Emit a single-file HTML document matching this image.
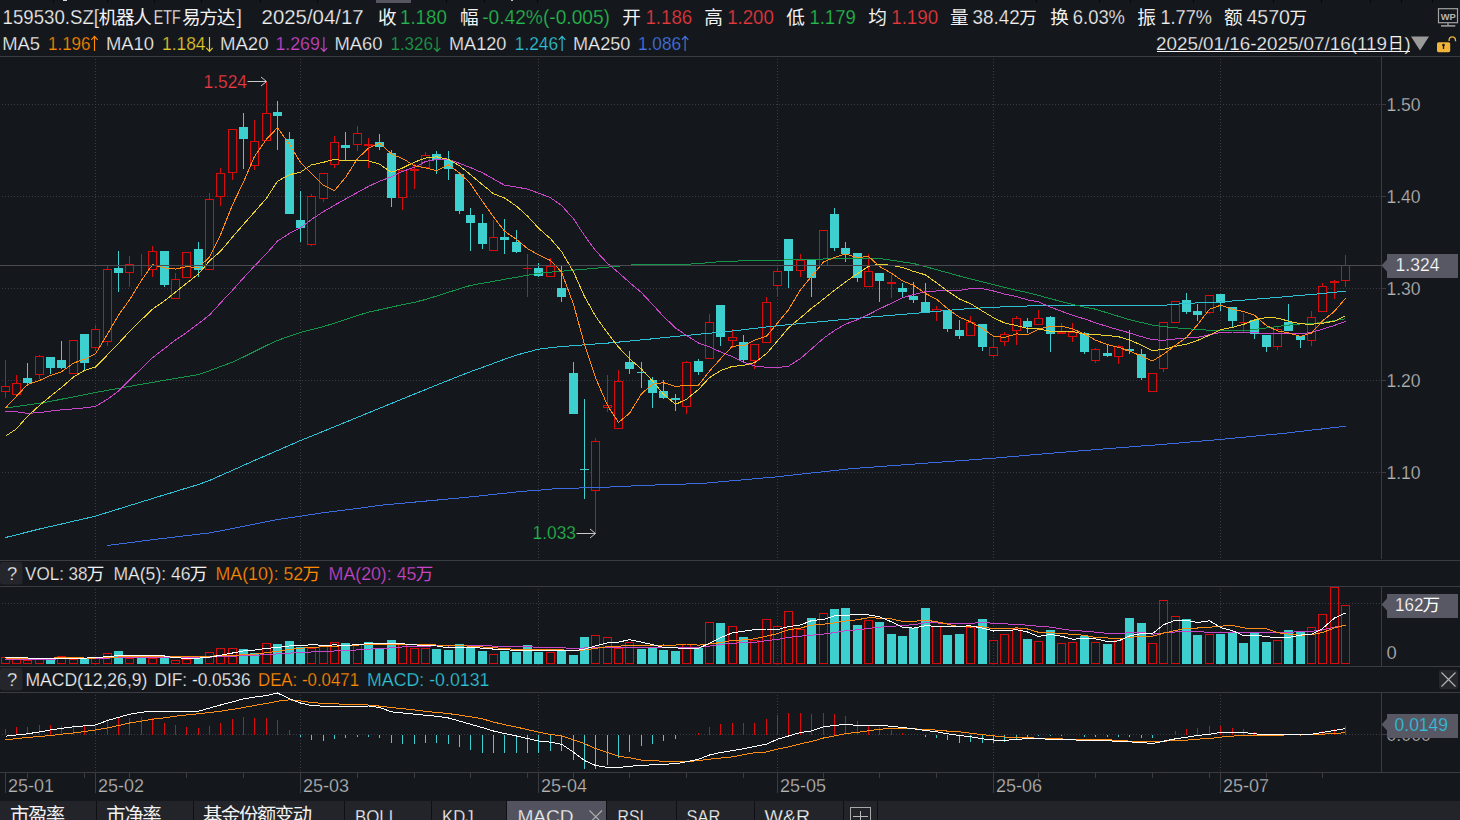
<!DOCTYPE html>
<html><head><meta charset="utf-8"><title>159530.SZ</title>
<style>
html,body{margin:0;padding:0;background:#14171c;overflow:hidden}
svg{display:block;font-family:"Liberation Sans","Noto Sans CJK SC",sans-serif}
</style></head><body>
<svg width="1460" height="820" viewBox="0 0 1460 820">
<rect x="0" y="0" width="1460" height="820" fill="#14171c" />
<rect x="376" y="0" width="35" height="3" fill="#55565f" />
<line x1="53.5" y1="0" x2="53.5" y2="3" stroke="#07080a" stroke-width="1" shape-rendering="crispEdges"/>
<line x1="107.5" y1="0" x2="107.5" y2="3" stroke="#07080a" stroke-width="1" shape-rendering="crispEdges"/>
<line x1="154.5" y1="0" x2="154.5" y2="3" stroke="#07080a" stroke-width="1" shape-rendering="crispEdges"/>
<line x1="201.5" y1="0" x2="201.5" y2="3" stroke="#07080a" stroke-width="1" shape-rendering="crispEdges"/>
<line x1="260.5" y1="0" x2="260.5" y2="3" stroke="#07080a" stroke-width="1" shape-rendering="crispEdges"/>
<line x1="317.5" y1="0" x2="317.5" y2="3" stroke="#07080a" stroke-width="1" shape-rendering="crispEdges"/>
<line x1="446.5" y1="0" x2="446.5" y2="3" stroke="#07080a" stroke-width="1" shape-rendering="crispEdges"/>
<line x1="484.5" y1="0" x2="484.5" y2="3" stroke="#07080a" stroke-width="1" shape-rendering="crispEdges"/>
<line x1="537.5" y1="0" x2="537.5" y2="3" stroke="#07080a" stroke-width="1" shape-rendering="crispEdges"/>
<line x1="1036.5" y1="0" x2="1036.5" y2="3" stroke="#07080a" stroke-width="1" shape-rendering="crispEdges"/>
<line x1="1099.5" y1="0" x2="1099.5" y2="3" stroke="#07080a" stroke-width="1" shape-rendering="crispEdges"/>
<line x1="1130.5" y1="0" x2="1130.5" y2="3" stroke="#07080a" stroke-width="1" shape-rendering="crispEdges"/>
<line x1="1193.5" y1="0" x2="1193.5" y2="3" stroke="#07080a" stroke-width="1" shape-rendering="crispEdges"/>
<line x1="1273.5" y1="0" x2="1273.5" y2="3" stroke="#07080a" stroke-width="1" shape-rendering="crispEdges"/>
<line x1="1321.5" y1="0" x2="1321.5" y2="3" stroke="#07080a" stroke-width="1" shape-rendering="crispEdges"/>
<line x1="1370.5" y1="0" x2="1370.5" y2="3" stroke="#07080a" stroke-width="1" shape-rendering="crispEdges"/>
<line x1="1401.5" y1="0" x2="1401.5" y2="3" stroke="#07080a" stroke-width="1" shape-rendering="crispEdges"/>
<line x1="1432.5" y1="0" x2="1432.5" y2="3" stroke="#07080a" stroke-width="1" shape-rendering="crispEdges"/>
<rect x="63" y="0" width="4" height="1" fill="#d8d8d8" />
<rect x="511" y="0" width="2" height="1" fill="#c8c8c8" />
<text x="2.60" y="24.1" font-size="19.6" fill="#f2f2f2" textLength="96.40" lengthAdjust="spacingAndGlyphs" xml:space="preserve" stroke="#14171c" stroke-width="0.25">159530.SZ[</text>
<text x="98.55" y="23.7" font-size="18.63" fill="#f2f2f2" textLength="53.3" lengthAdjust="spacing">机器人</text>
<text x="153.80" y="24.1" font-size="19.6" fill="#f2f2f2" textLength="26.80" lengthAdjust="spacingAndGlyphs" xml:space="preserve" stroke="#14171c" stroke-width="0.25">ETF</text>
<text x="181.95" y="23.7" font-size="18.63" fill="#f2f2f2" textLength="53.3" lengthAdjust="spacing">易方达</text>
<text x="236.50" y="24.1" font-size="19.6" fill="#f2f2f2" textLength="5.45" lengthAdjust="spacingAndGlyphs" xml:space="preserve" stroke="#14171c" stroke-width="0.25">]</text>
<text x="261.60" y="24.1" font-size="19.6" fill="#f2f2f2" textLength="102.00" lengthAdjust="spacingAndGlyphs" xml:space="preserve" stroke="#14171c" stroke-width="0.25">2025/04/17</text>
<text x="377.95" y="23.7" font-size="18.63" fill="#f2f2f2">收</text>
<text x="400.00" y="24.1" font-size="19.6" fill="#25ba4e" textLength="46.80" lengthAdjust="spacingAndGlyphs" xml:space="preserve" stroke="#14171c" stroke-width="0.25">1.180</text>
<text x="459.95" y="23.7" font-size="18.63" fill="#f2f2f2">幅</text>
<text x="482.20" y="24.1" font-size="19.6" fill="#25ba4e" textLength="127.80" lengthAdjust="spacingAndGlyphs" xml:space="preserve" stroke="#14171c" stroke-width="0.25">-0.42%(-0.005)</text>
<text x="622.35" y="23.7" font-size="18.63" fill="#f2f2f2">开</text>
<text x="645.40" y="24.1" font-size="19.6" fill="#e8383c" textLength="46.80" lengthAdjust="spacingAndGlyphs" xml:space="preserve" stroke="#14171c" stroke-width="0.25">1.186</text>
<text x="704.35" y="23.7" font-size="18.63" fill="#f2f2f2">高</text>
<text x="727.20" y="24.1" font-size="19.6" fill="#e8383c" textLength="46.60" lengthAdjust="spacingAndGlyphs" xml:space="preserve" stroke="#14171c" stroke-width="0.25">1.200</text>
<text x="786.35" y="23.7" font-size="18.63" fill="#f2f2f2">低</text>
<text x="809.40" y="24.1" font-size="19.6" fill="#25ba4e" textLength="46.40" lengthAdjust="spacingAndGlyphs" xml:space="preserve" stroke="#14171c" stroke-width="0.25">1.179</text>
<text x="868.35" y="23.7" font-size="18.63" fill="#f2f2f2">均</text>
<text x="891.20" y="24.1" font-size="19.6" fill="#e8383c" textLength="47.00" lengthAdjust="spacingAndGlyphs" xml:space="preserve" stroke="#14171c" stroke-width="0.25">1.190</text>
<text x="949.95" y="23.7" font-size="18.63" fill="#f2f2f2">量</text>
<text x="972.60" y="24.1" font-size="19.6" fill="#f2f2f2" textLength="47.20" lengthAdjust="spacingAndGlyphs" xml:space="preserve" stroke="#14171c" stroke-width="0.25">38.42</text>
<text x="1019.23" y="24.2" font-size="17.6" fill="#f2f2f2">万</text>
<text x="1050.35" y="23.7" font-size="18.63" fill="#f2f2f2">换</text>
<text x="1072.80" y="24.1" font-size="19.6" fill="#f2f2f2" textLength="52.20" lengthAdjust="spacingAndGlyphs" xml:space="preserve" stroke="#14171c" stroke-width="0.25">6.03%</text>
<text x="1137.35" y="23.7" font-size="18.63" fill="#f2f2f2">振</text>
<text x="1160.40" y="24.1" font-size="19.6" fill="#f2f2f2" textLength="51.60" lengthAdjust="spacingAndGlyphs" xml:space="preserve" stroke="#14171c" stroke-width="0.25">1.77%</text>
<text x="1223.95" y="23.7" font-size="18.63" fill="#f2f2f2">额</text>
<text x="1246.40" y="24.1" font-size="19.6" fill="#f2f2f2" textLength="43.60" lengthAdjust="spacingAndGlyphs" xml:space="preserve" stroke="#14171c" stroke-width="0.25">4570</text>
<text x="1289.43" y="24.2" font-size="17.6" fill="#f2f2f2">万</text>
<text x="2.20" y="50.4" font-size="18.4" fill="#f2f2f2" textLength="37.80" lengthAdjust="spacingAndGlyphs" xml:space="preserve" stroke="#14171c" stroke-width="0.25">MA5</text>
<text x="48.00" y="50.4" font-size="18.4" fill="#ff8a00" textLength="42.50" lengthAdjust="spacingAndGlyphs" xml:space="preserve" stroke="#14171c" stroke-width="0.25">1.196</text>
<path d="M94.5 50.9 V36.4 M91.3 39.9 L94.5 36.4 L97.7 39.9" stroke="#ff8a00" stroke-width="1.15" fill="none"/>
<text x="106.00" y="50.4" font-size="18.4" fill="#f2f2f2" textLength="48.00" lengthAdjust="spacingAndGlyphs" xml:space="preserve" stroke="#14171c" stroke-width="0.25">MA10</text>
<text x="162.00" y="50.4" font-size="18.4" fill="#e6cc2e" textLength="43.50" lengthAdjust="spacingAndGlyphs" xml:space="preserve" stroke="#14171c" stroke-width="0.25">1.184</text>
<path d="M209.5 36.9 V51.4 M206.3 47.9 L209.5 51.4 L212.7 47.9" stroke="#e6cc2e" stroke-width="1.15" fill="none"/>
<text x="220.00" y="50.4" font-size="18.4" fill="#f2f2f2" textLength="48.50" lengthAdjust="spacingAndGlyphs" xml:space="preserve" stroke="#14171c" stroke-width="0.25">MA20</text>
<text x="275.40" y="50.4" font-size="18.4" fill="#c846c8" textLength="44.50" lengthAdjust="spacingAndGlyphs" xml:space="preserve" stroke="#14171c" stroke-width="0.25">1.269</text>
<path d="M323.9 36.9 V51.4 M320.7 47.9 L323.9 51.4 L327.1 47.9" stroke="#c846c8" stroke-width="1.15" fill="none"/>
<text x="334.40" y="50.4" font-size="18.4" fill="#f2f2f2" textLength="48.00" lengthAdjust="spacingAndGlyphs" xml:space="preserve" stroke="#14171c" stroke-width="0.25">MA60</text>
<text x="390.40" y="50.4" font-size="18.4" fill="#1e9e4a" textLength="42.70" lengthAdjust="spacingAndGlyphs" xml:space="preserve" stroke="#14171c" stroke-width="0.25">1.326</text>
<path d="M437.1 36.9 V51.4 M433.9 47.9 L437.1 51.4 L440.3 47.9" stroke="#1e9e4a" stroke-width="1.15" fill="none"/>
<text x="449.00" y="50.4" font-size="18.4" fill="#f2f2f2" textLength="57.40" lengthAdjust="spacingAndGlyphs" xml:space="preserve" stroke="#14171c" stroke-width="0.25">MA120</text>
<text x="514.80" y="50.4" font-size="18.4" fill="#30c3d6" textLength="43.30" lengthAdjust="spacingAndGlyphs" xml:space="preserve" stroke="#14171c" stroke-width="0.25">1.246</text>
<path d="M562.1 50.9 V36.4 M558.9 39.9 L562.1 36.4 L565.3 39.9" stroke="#30c3d6" stroke-width="1.15" fill="none"/>
<text x="573.00" y="50.4" font-size="18.4" fill="#f2f2f2" textLength="57.40" lengthAdjust="spacingAndGlyphs" xml:space="preserve" stroke="#14171c" stroke-width="0.25">MA250</text>
<text x="638.00" y="50.4" font-size="18.4" fill="#4477e6" textLength="43.10" lengthAdjust="spacingAndGlyphs" xml:space="preserve" stroke="#14171c" stroke-width="0.25">1.086</text>
<path d="M685.1 50.9 V36.4 M681.9 39.9 L685.1 36.4 L688.3 39.9" stroke="#4477e6" stroke-width="1.15" fill="none"/>
<text x="1156.00" y="50.4" font-size="18.4" fill="#f2f2f2" textLength="231.00" lengthAdjust="spacingAndGlyphs" xml:space="preserve" stroke="#14171c" stroke-width="0.25">2025/01/16-2025/07/16(119</text>
<text x="1387.89" y="48.8" font-size="15.5" fill="#f2f2f2">日</text>
<text x="1404.40" y="50.4" font-size="18.4" fill="#f2f2f2" textLength="6.13" lengthAdjust="spacingAndGlyphs" xml:space="preserve" stroke="#14171c" stroke-width="0.25">)</text>
<line x1="1156.5" y1="51.5" x2="1409.5" y2="51.5" stroke="#f2f2f2" stroke-width="1" shape-rendering="crispEdges"/>
<path d="M1411 36.5 H1429 L1420 50.5 Z" fill="#9a9a9a"/>
<rect x="1437" y="42.2" width="13.2" height="10" rx="1.6" fill="#f0b43a"/>
<path d="M1449.1 40.9 V40 a3.2 3.2 0 0 1 6.4 0 V41.2" stroke="#f0b43a" stroke-width="1.3" fill="none"/>
<circle cx="1443.5" cy="45" r="1.35" fill="#15161a"/>
<path d="M1443.5 45 V49" stroke="#15161a" stroke-width="1.3" fill="none"/>
<rect x="1438.5" y="8.7" width="19" height="14" fill="none" stroke="#a2a2a2" stroke-width="1.2"/>
<path d="M1448 22.7 V25.5" stroke="#a2a2a2" stroke-width="1.3" fill="none"/>
<path d="M1441 25.9 H1455.3" stroke="#a2a2a2" stroke-width="1.5" fill="none"/>
<text x="1440.8" y="19.8" font-size="9.6" font-weight="bold" fill="#b6b6b6" textLength="15" lengthAdjust="spacingAndGlyphs">WP</text>
<line x1="0" y1="56.5" x2="1460" y2="56.5" stroke="#3b3b42" stroke-width="1" shape-rendering="crispEdges"/>
<line x1="0" y1="560.5" x2="1460" y2="560.5" stroke="#3b3b42" stroke-width="1" shape-rendering="crispEdges"/>
<line x1="0" y1="586.5" x2="1460" y2="586.5" stroke="#3b3b42" stroke-width="1" shape-rendering="crispEdges"/>
<line x1="0" y1="666.5" x2="1460" y2="666.5" stroke="#3b3b42" stroke-width="1" shape-rendering="crispEdges"/>
<line x1="0" y1="692.5" x2="1460" y2="692.5" stroke="#3b3b42" stroke-width="1" shape-rendering="crispEdges"/>
<line x1="0" y1="772.5" x2="1460" y2="772.5" stroke="#3b3b42" stroke-width="1" shape-rendering="crispEdges"/>
<line x1="1381.5" y1="57" x2="1381.5" y2="559" stroke="#3b3b42" stroke-width="1" shape-rendering="crispEdges"/>
<line x1="1381.5" y1="587" x2="1381.5" y2="666" stroke="#3b3b42" stroke-width="1" shape-rendering="crispEdges"/>
<line x1="1381.5" y1="693" x2="1381.5" y2="772" stroke="#3b3b42" stroke-width="1" shape-rendering="crispEdges"/>
<line x1="2" y1="104.5" x2="1381" y2="104.5" stroke="#3c3c44" stroke-width="1" stroke-dasharray="1 2" shape-rendering="crispEdges"/>
<line x1="2" y1="196.5" x2="1381" y2="196.5" stroke="#3c3c44" stroke-width="1" stroke-dasharray="1 2" shape-rendering="crispEdges"/>
<line x1="2" y1="288.5" x2="1381" y2="288.5" stroke="#3c3c44" stroke-width="1" stroke-dasharray="1 2" shape-rendering="crispEdges"/>
<line x1="2" y1="380.5" x2="1381" y2="380.5" stroke="#3c3c44" stroke-width="1" stroke-dasharray="1 2" shape-rendering="crispEdges"/>
<line x1="2" y1="472.5" x2="1381" y2="472.5" stroke="#3c3c44" stroke-width="1" stroke-dasharray="1 2" shape-rendering="crispEdges"/>
<line x1="2" y1="603.5" x2="1381" y2="603.5" stroke="#3c3c44" stroke-width="1" stroke-dasharray="1 2" shape-rendering="crispEdges"/>
<line x1="2" y1="734.5" x2="1381" y2="734.5" stroke="#3c3c44" stroke-width="1" stroke-dasharray="1 2" shape-rendering="crispEdges"/>
<line x1="95.5" y1="59" x2="95.5" y2="559" stroke="#3c3c44" stroke-width="1" stroke-dasharray="1 2" shape-rendering="crispEdges"/>
<line x1="95.5" y1="589" x2="95.5" y2="666" stroke="#3c3c44" stroke-width="1" stroke-dasharray="1 2" shape-rendering="crispEdges"/>
<line x1="95.5" y1="695" x2="95.5" y2="772" stroke="#3c3c44" stroke-width="1" stroke-dasharray="1 2" shape-rendering="crispEdges"/>
<line x1="300.5" y1="59" x2="300.5" y2="559" stroke="#3c3c44" stroke-width="1" stroke-dasharray="1 2" shape-rendering="crispEdges"/>
<line x1="300.5" y1="589" x2="300.5" y2="666" stroke="#3c3c44" stroke-width="1" stroke-dasharray="1 2" shape-rendering="crispEdges"/>
<line x1="300.5" y1="695" x2="300.5" y2="772" stroke="#3c3c44" stroke-width="1" stroke-dasharray="1 2" shape-rendering="crispEdges"/>
<line x1="538.5" y1="59" x2="538.5" y2="559" stroke="#3c3c44" stroke-width="1" stroke-dasharray="1 2" shape-rendering="crispEdges"/>
<line x1="538.5" y1="589" x2="538.5" y2="666" stroke="#3c3c44" stroke-width="1" stroke-dasharray="1 2" shape-rendering="crispEdges"/>
<line x1="538.5" y1="695" x2="538.5" y2="772" stroke="#3c3c44" stroke-width="1" stroke-dasharray="1 2" shape-rendering="crispEdges"/>
<line x1="777.5" y1="59" x2="777.5" y2="559" stroke="#3c3c44" stroke-width="1" stroke-dasharray="1 2" shape-rendering="crispEdges"/>
<line x1="777.5" y1="589" x2="777.5" y2="666" stroke="#3c3c44" stroke-width="1" stroke-dasharray="1 2" shape-rendering="crispEdges"/>
<line x1="777.5" y1="695" x2="777.5" y2="772" stroke="#3c3c44" stroke-width="1" stroke-dasharray="1 2" shape-rendering="crispEdges"/>
<line x1="993.5" y1="59" x2="993.5" y2="559" stroke="#3c3c44" stroke-width="1" stroke-dasharray="1 2" shape-rendering="crispEdges"/>
<line x1="993.5" y1="589" x2="993.5" y2="666" stroke="#3c3c44" stroke-width="1" stroke-dasharray="1 2" shape-rendering="crispEdges"/>
<line x1="993.5" y1="695" x2="993.5" y2="772" stroke="#3c3c44" stroke-width="1" stroke-dasharray="1 2" shape-rendering="crispEdges"/>
<line x1="1220.5" y1="59" x2="1220.5" y2="559" stroke="#3c3c44" stroke-width="1" stroke-dasharray="1 2" shape-rendering="crispEdges"/>
<line x1="1220.5" y1="589" x2="1220.5" y2="666" stroke="#3c3c44" stroke-width="1" stroke-dasharray="1 2" shape-rendering="crispEdges"/>
<line x1="1220.5" y1="695" x2="1220.5" y2="772" stroke="#3c3c44" stroke-width="1" stroke-dasharray="1 2" shape-rendering="crispEdges"/>
<g shape-rendering="crispEdges">
<rect x="5" y="360" width="1" height="26" fill="#d80c0c" />
<rect x="5" y="392" width="1" height="6" fill="#d80c0c" />
<rect x="1.5" y="386.5" width="8" height="5" fill="#14171c" stroke="#d80c0c" stroke-width="1"/>
<rect x="16" y="375" width="1" height="8" fill="#d80c0c" />
<rect x="16" y="395" width="1" height="1" fill="#d80c0c" />
<rect x="12.5" y="383.5" width="8" height="11" fill="#14171c" stroke="#d80c0c" stroke-width="1"/>
<rect x="27" y="363" width="1" height="15" fill="#3ecfcf" />
<rect x="27" y="383" width="1" height="3" fill="#3ecfcf" />
<rect x="23" y="378" width="9" height="5" fill="#3ecfcf" />
<rect x="39" y="355" width="1" height="1" fill="#d80c0c" />
<rect x="39" y="375" width="1" height="4" fill="#d80c0c" />
<rect x="35.5" y="356.5" width="8" height="18" fill="#14171c" stroke="#d80c0c" stroke-width="1"/>
<rect x="50" y="368" width="1" height="6" fill="#3ecfcf" />
<rect x="46" y="357" width="9" height="11" fill="#3ecfcf" />
<rect x="61" y="341" width="1" height="19" fill="#3ecfcf" />
<rect x="61" y="368" width="1" height="1" fill="#3ecfcf" />
<rect x="57" y="360" width="9" height="8" fill="#3ecfcf" />
<rect x="69.5" y="340.5" width="8" height="33" fill="#14171c" stroke="#d80c0c" stroke-width="1"/>
<rect x="84" y="363" width="1" height="7" fill="#3ecfcf" />
<rect x="80" y="334" width="9" height="29" fill="#3ecfcf" />
<rect x="95" y="325" width="1" height="4" fill="#d80c0c" />
<rect x="95" y="348" width="1" height="3" fill="#d80c0c" />
<rect x="91.5" y="329.5" width="8" height="18" fill="#14171c" stroke="#d80c0c" stroke-width="1"/>
<rect x="107" y="266" width="1" height="3" fill="#d80c0c" />
<rect x="107" y="342" width="1" height="4" fill="#d80c0c" />
<rect x="103.5" y="269.5" width="8" height="72" fill="#14171c" stroke="#d80c0c" stroke-width="1"/>
<rect x="118" y="251" width="1" height="17" fill="#3ecfcf" />
<rect x="118" y="273" width="1" height="19" fill="#3ecfcf" />
<rect x="114" y="268" width="9" height="5" fill="#3ecfcf" />
<rect x="129" y="256" width="1" height="8" fill="#d80c0c" />
<rect x="129" y="273" width="1" height="14" fill="#d80c0c" />
<rect x="125.5" y="264.5" width="8" height="8" fill="#14171c" stroke="#d80c0c" stroke-width="1"/>
<rect x="141" y="254" width="1" height="11" fill="#d80c0c" />
<rect x="141" y="266" width="1" height="10" fill="#d80c0c" />
<rect x="137" y="265" width="9" height="1" fill="#d80c0c" />
<rect x="152" y="246" width="1" height="5" fill="#d80c0c" />
<rect x="152" y="270" width="1" height="7" fill="#d80c0c" />
<rect x="148.5" y="251.5" width="8" height="18" fill="#14171c" stroke="#d80c0c" stroke-width="1"/>
<rect x="164" y="285" width="1" height="2" fill="#3ecfcf" />
<rect x="160" y="251" width="9" height="34" fill="#3ecfcf" />
<rect x="175" y="273" width="1" height="6" fill="#d80c0c" />
<rect x="171.5" y="279.5" width="8" height="19" fill="#14171c" stroke="#d80c0c" stroke-width="1"/>
<rect x="182.5" y="252.5" width="8" height="25" fill="#14171c" stroke="#d80c0c" stroke-width="1"/>
<rect x="198" y="242" width="1" height="7" fill="#3ecfcf" />
<rect x="198" y="270" width="1" height="7" fill="#3ecfcf" />
<rect x="194" y="249" width="9" height="21" fill="#3ecfcf" />
<rect x="209" y="193" width="1" height="6" fill="#d80c0c" />
<rect x="205.5" y="199.5" width="8" height="70" fill="#14171c" stroke="#d80c0c" stroke-width="1"/>
<rect x="220" y="168" width="1" height="5" fill="#d80c0c" />
<rect x="220" y="197" width="1" height="9" fill="#d80c0c" />
<rect x="216.5" y="173.5" width="8" height="23" fill="#14171c" stroke="#d80c0c" stroke-width="1"/>
<rect x="232" y="173" width="1" height="7" fill="#d80c0c" />
<rect x="228.5" y="129.5" width="8" height="43" fill="#14171c" stroke="#d80c0c" stroke-width="1"/>
<rect x="243" y="113" width="1" height="14" fill="#3ecfcf" />
<rect x="243" y="139" width="1" height="30" fill="#3ecfcf" />
<rect x="239" y="127" width="9" height="12" fill="#3ecfcf" />
<rect x="254" y="120" width="1" height="21" fill="#d80c0c" />
<rect x="254" y="166" width="1" height="4" fill="#d80c0c" />
<rect x="250.5" y="141.5" width="8" height="24" fill="#14171c" stroke="#d80c0c" stroke-width="1"/>
<rect x="266" y="81" width="1" height="32" fill="#d80c0c" />
<rect x="262.5" y="113.5" width="8" height="27" fill="#14171c" stroke="#d80c0c" stroke-width="1"/>
<rect x="277" y="101" width="1" height="11" fill="#3ecfcf" />
<rect x="277" y="116" width="1" height="34" fill="#3ecfcf" />
<rect x="273" y="112" width="9" height="4" fill="#3ecfcf" />
<rect x="289" y="132" width="1" height="7" fill="#3ecfcf" />
<rect x="285" y="139" width="9" height="75" fill="#3ecfcf" />
<rect x="300" y="191" width="1" height="29" fill="#3ecfcf" />
<rect x="300" y="228" width="1" height="14" fill="#3ecfcf" />
<rect x="296" y="220" width="9" height="8" fill="#3ecfcf" />
<rect x="311" y="194" width="1" height="2" fill="#d80c0c" />
<rect x="311" y="245" width="1" height="1" fill="#d80c0c" />
<rect x="307.5" y="196.5" width="8" height="48" fill="#14171c" stroke="#d80c0c" stroke-width="1"/>
<rect x="323" y="199" width="1" height="3" fill="#d80c0c" />
<rect x="319.5" y="173.5" width="8" height="25" fill="#14171c" stroke="#d80c0c" stroke-width="1"/>
<rect x="334" y="136" width="1" height="6" fill="#d80c0c" />
<rect x="334" y="165" width="1" height="3" fill="#d80c0c" />
<rect x="330.5" y="142.5" width="8" height="22" fill="#14171c" stroke="#d80c0c" stroke-width="1"/>
<rect x="345" y="132" width="1" height="13" fill="#3ecfcf" />
<rect x="345" y="148" width="1" height="13" fill="#3ecfcf" />
<rect x="341" y="145" width="9" height="3" fill="#3ecfcf" />
<rect x="357" y="126" width="1" height="7" fill="#d80c0c" />
<rect x="357" y="145" width="1" height="6" fill="#d80c0c" />
<rect x="353.5" y="133.5" width="8" height="11" fill="#14171c" stroke="#d80c0c" stroke-width="1"/>
<rect x="368" y="138" width="1" height="6" fill="#d80c0c" />
<rect x="368" y="146" width="1" height="22" fill="#d80c0c" />
<rect x="364.5" y="144.5" width="8" height="1" fill="#14171c" stroke="#d80c0c" stroke-width="1"/>
<rect x="379" y="134" width="1" height="8" fill="#3ecfcf" />
<rect x="379" y="147" width="1" height="3" fill="#3ecfcf" />
<rect x="375" y="142" width="9" height="5" fill="#3ecfcf" />
<rect x="391" y="150" width="1" height="3" fill="#3ecfcf" />
<rect x="391" y="198" width="1" height="9" fill="#3ecfcf" />
<rect x="387" y="153" width="9" height="45" fill="#3ecfcf" />
<rect x="402" y="198" width="1" height="12" fill="#d80c0c" />
<rect x="398.5" y="170.5" width="8" height="27" fill="#14171c" stroke="#d80c0c" stroke-width="1"/>
<rect x="414" y="164" width="1" height="5" fill="#d80c0c" />
<rect x="414" y="171" width="1" height="18" fill="#d80c0c" />
<rect x="410.5" y="169.5" width="8" height="1" fill="#14171c" stroke="#d80c0c" stroke-width="1"/>
<rect x="425" y="152" width="1" height="3" fill="#d80c0c" />
<rect x="421.5" y="155.5" width="8" height="12" fill="#14171c" stroke="#d80c0c" stroke-width="1"/>
<rect x="436" y="151" width="1" height="3" fill="#3ecfcf" />
<rect x="436" y="160" width="1" height="14" fill="#3ecfcf" />
<rect x="432" y="154" width="9" height="6" fill="#3ecfcf" />
<rect x="448" y="151" width="1" height="9" fill="#3ecfcf" />
<rect x="448" y="169" width="1" height="11" fill="#3ecfcf" />
<rect x="444" y="160" width="9" height="9" fill="#3ecfcf" />
<rect x="459" y="211" width="1" height="3" fill="#3ecfcf" />
<rect x="455" y="174" width="9" height="37" fill="#3ecfcf" />
<rect x="470" y="208" width="1" height="7" fill="#3ecfcf" />
<rect x="470" y="223" width="1" height="28" fill="#3ecfcf" />
<rect x="466" y="215" width="9" height="8" fill="#3ecfcf" />
<rect x="482" y="214" width="1" height="9" fill="#3ecfcf" />
<rect x="482" y="244" width="1" height="5" fill="#3ecfcf" />
<rect x="478" y="223" width="9" height="21" fill="#3ecfcf" />
<rect x="493" y="220" width="1" height="17" fill="#d80c0c" />
<rect x="489.5" y="237.5" width="8" height="13" fill="#14171c" stroke="#d80c0c" stroke-width="1"/>
<rect x="504" y="219" width="1" height="18" fill="#3ecfcf" />
<rect x="504" y="240" width="1" height="14" fill="#3ecfcf" />
<rect x="500" y="237" width="9" height="3" fill="#3ecfcf" />
<rect x="516" y="230" width="1" height="12" fill="#3ecfcf" />
<rect x="516" y="252" width="1" height="1" fill="#3ecfcf" />
<rect x="512" y="242" width="9" height="10" fill="#3ecfcf" />
<rect x="527" y="254" width="1" height="14" fill="#d80c0c" />
<rect x="527" y="269" width="1" height="28" fill="#d80c0c" />
<rect x="523" y="268" width="9" height="1" fill="#d80c0c" />
<rect x="538" y="263" width="1" height="5" fill="#3ecfcf" />
<rect x="538" y="276" width="1" height="1" fill="#3ecfcf" />
<rect x="534" y="268" width="9" height="8" fill="#3ecfcf" />
<rect x="550" y="258" width="1" height="8" fill="#d80c0c" />
<rect x="546.5" y="266.5" width="8" height="10" fill="#14171c" stroke="#d80c0c" stroke-width="1"/>
<rect x="561" y="266" width="1" height="22" fill="#3ecfcf" />
<rect x="561" y="297" width="1" height="5" fill="#3ecfcf" />
<rect x="557" y="288" width="9" height="9" fill="#3ecfcf" />
<rect x="573" y="362" width="1" height="11" fill="#3ecfcf" />
<rect x="569" y="373" width="9" height="41" fill="#3ecfcf" />
<rect x="584" y="399" width="1" height="70" fill="#3ecfcf" />
<rect x="584" y="470" width="1" height="29" fill="#3ecfcf" />
<rect x="580" y="469" width="9" height="1" fill="#3ecfcf" />
<rect x="595" y="438" width="1" height="3" fill="#d80c0c" />
<rect x="595" y="491" width="1" height="43" fill="#d80c0c" />
<rect x="591.5" y="441.5" width="8" height="49" fill="#14171c" stroke="#d80c0c" stroke-width="1"/>
<rect x="607" y="375" width="1" height="30" fill="#d80c0c" />
<rect x="607" y="408" width="1" height="4" fill="#d80c0c" />
<rect x="603.5" y="405.5" width="8" height="2" fill="#14171c" stroke="#d80c0c" stroke-width="1"/>
<rect x="618" y="370" width="1" height="11" fill="#d80c0c" />
<rect x="614.5" y="381.5" width="8" height="47" fill="#14171c" stroke="#d80c0c" stroke-width="1"/>
<rect x="629" y="351" width="1" height="11" fill="#3ecfcf" />
<rect x="629" y="369" width="1" height="5" fill="#3ecfcf" />
<rect x="625" y="362" width="9" height="7" fill="#3ecfcf" />
<rect x="641" y="362" width="1" height="10" fill="#3ecfcf" />
<rect x="641" y="373" width="1" height="15" fill="#3ecfcf" />
<rect x="637" y="372" width="9" height="1" fill="#3ecfcf" />
<rect x="652" y="377" width="1" height="3" fill="#3ecfcf" />
<rect x="652" y="393" width="1" height="15" fill="#3ecfcf" />
<rect x="648" y="380" width="9" height="13" fill="#3ecfcf" />
<rect x="663" y="380" width="1" height="11" fill="#3ecfcf" />
<rect x="663" y="398" width="1" height="1" fill="#3ecfcf" />
<rect x="659" y="391" width="9" height="7" fill="#3ecfcf" />
<rect x="675" y="394" width="1" height="4" fill="#3ecfcf" />
<rect x="675" y="400" width="1" height="11" fill="#3ecfcf" />
<rect x="671" y="398" width="9" height="2" fill="#3ecfcf" />
<rect x="686" y="361" width="1" height="1" fill="#d80c0c" />
<rect x="686" y="407" width="1" height="7" fill="#d80c0c" />
<rect x="682.5" y="362.5" width="8" height="44" fill="#14171c" stroke="#d80c0c" stroke-width="1"/>
<rect x="698" y="359" width="1" height="2" fill="#3ecfcf" />
<rect x="698" y="372" width="1" height="3" fill="#3ecfcf" />
<rect x="694" y="361" width="9" height="11" fill="#3ecfcf" />
<rect x="709" y="314" width="1" height="8" fill="#d80c0c" />
<rect x="705.5" y="322.5" width="8" height="36" fill="#14171c" stroke="#d80c0c" stroke-width="1"/>
<rect x="720" y="337" width="1" height="9" fill="#3ecfcf" />
<rect x="716" y="305" width="9" height="32" fill="#3ecfcf" />
<rect x="732" y="329" width="1" height="8" fill="#d80c0c" />
<rect x="732" y="341" width="1" height="7" fill="#d80c0c" />
<rect x="728.5" y="337.5" width="8" height="3" fill="#14171c" stroke="#d80c0c" stroke-width="1"/>
<rect x="743" y="335" width="1" height="7" fill="#3ecfcf" />
<rect x="743" y="360" width="1" height="2" fill="#3ecfcf" />
<rect x="739" y="342" width="9" height="18" fill="#3ecfcf" />
<rect x="754" y="361" width="1" height="8" fill="#d80c0c" />
<rect x="750.5" y="344.5" width="8" height="16" fill="#14171c" stroke="#d80c0c" stroke-width="1"/>
<rect x="766" y="297" width="1" height="5" fill="#d80c0c" />
<rect x="762.5" y="302.5" width="8" height="40" fill="#14171c" stroke="#d80c0c" stroke-width="1"/>
<rect x="777" y="268" width="1" height="3" fill="#d80c0c" />
<rect x="777" y="286" width="1" height="11" fill="#d80c0c" />
<rect x="773.5" y="271.5" width="8" height="14" fill="#14171c" stroke="#d80c0c" stroke-width="1"/>
<rect x="788" y="271" width="1" height="17" fill="#3ecfcf" />
<rect x="784" y="239" width="9" height="32" fill="#3ecfcf" />
<rect x="800" y="254" width="1" height="6" fill="#d80c0c" />
<rect x="800" y="271" width="1" height="6" fill="#d80c0c" />
<rect x="796.5" y="260.5" width="8" height="10" fill="#14171c" stroke="#d80c0c" stroke-width="1"/>
<rect x="811" y="278" width="1" height="19" fill="#3ecfcf" />
<rect x="807" y="260" width="9" height="18" fill="#3ecfcf" />
<rect x="819.5" y="230.5" width="8" height="35" fill="#14171c" stroke="#d80c0c" stroke-width="1"/>
<rect x="834" y="208" width="1" height="6" fill="#3ecfcf" />
<rect x="834" y="248" width="1" height="3" fill="#3ecfcf" />
<rect x="830" y="214" width="9" height="34" fill="#3ecfcf" />
<rect x="845" y="242" width="1" height="6" fill="#3ecfcf" />
<rect x="845" y="254" width="1" height="8" fill="#3ecfcf" />
<rect x="841" y="248" width="9" height="6" fill="#3ecfcf" />
<rect x="857" y="278" width="1" height="4" fill="#3ecfcf" />
<rect x="853" y="253" width="9" height="25" fill="#3ecfcf" />
<rect x="868" y="254" width="1" height="17" fill="#d80c0c" />
<rect x="864.5" y="271.5" width="8" height="15" fill="#14171c" stroke="#d80c0c" stroke-width="1"/>
<rect x="879" y="281" width="1" height="21" fill="#3ecfcf" />
<rect x="875" y="273" width="9" height="8" fill="#3ecfcf" />
<rect x="891" y="275" width="1" height="7" fill="#d80c0c" />
<rect x="891" y="284" width="1" height="14" fill="#d80c0c" />
<rect x="887.5" y="282.5" width="8" height="1" fill="#14171c" stroke="#d80c0c" stroke-width="1"/>
<rect x="902" y="283" width="1" height="5" fill="#3ecfcf" />
<rect x="902" y="292" width="1" height="6" fill="#3ecfcf" />
<rect x="898" y="288" width="9" height="4" fill="#3ecfcf" />
<rect x="913" y="282" width="1" height="14" fill="#3ecfcf" />
<rect x="913" y="300" width="1" height="3" fill="#3ecfcf" />
<rect x="909" y="296" width="9" height="4" fill="#3ecfcf" />
<rect x="925" y="283" width="1" height="19" fill="#3ecfcf" />
<rect x="921" y="302" width="9" height="10" fill="#3ecfcf" />
<rect x="936" y="306" width="1" height="3" fill="#d80c0c" />
<rect x="936" y="312" width="1" height="9" fill="#d80c0c" />
<rect x="932.5" y="309.5" width="8" height="2" fill="#14171c" stroke="#d80c0c" stroke-width="1"/>
<rect x="947" y="329" width="1" height="3" fill="#3ecfcf" />
<rect x="943" y="310" width="9" height="19" fill="#3ecfcf" />
<rect x="959" y="320" width="1" height="10" fill="#3ecfcf" />
<rect x="959" y="336" width="1" height="3" fill="#3ecfcf" />
<rect x="955" y="330" width="9" height="6" fill="#3ecfcf" />
<rect x="970" y="316" width="1" height="6" fill="#d80c0c" />
<rect x="966.5" y="322.5" width="8" height="13" fill="#14171c" stroke="#d80c0c" stroke-width="1"/>
<rect x="982" y="347" width="1" height="4" fill="#3ecfcf" />
<rect x="978" y="324" width="9" height="23" fill="#3ecfcf" />
<rect x="993" y="339" width="1" height="8" fill="#d80c0c" />
<rect x="993" y="356" width="1" height="2" fill="#d80c0c" />
<rect x="989.5" y="347.5" width="8" height="8" fill="#14171c" stroke="#d80c0c" stroke-width="1"/>
<rect x="1004" y="332" width="1" height="2" fill="#d80c0c" />
<rect x="1004" y="342" width="1" height="4" fill="#d80c0c" />
<rect x="1000.5" y="334.5" width="8" height="7" fill="#14171c" stroke="#d80c0c" stroke-width="1"/>
<rect x="1016" y="316" width="1" height="2" fill="#d80c0c" />
<rect x="1016" y="331" width="1" height="14" fill="#d80c0c" />
<rect x="1012.5" y="318.5" width="8" height="12" fill="#14171c" stroke="#d80c0c" stroke-width="1"/>
<rect x="1027" y="318" width="1" height="3" fill="#3ecfcf" />
<rect x="1027" y="327" width="1" height="6" fill="#3ecfcf" />
<rect x="1023" y="321" width="9" height="6" fill="#3ecfcf" />
<rect x="1038" y="310" width="1" height="8" fill="#d80c0c" />
<rect x="1034.5" y="318.5" width="8" height="6" fill="#14171c" stroke="#d80c0c" stroke-width="1"/>
<rect x="1050" y="316" width="1" height="1" fill="#3ecfcf" />
<rect x="1050" y="334" width="1" height="18" fill="#3ecfcf" />
<rect x="1046" y="317" width="9" height="17" fill="#3ecfcf" />
<rect x="1061" y="323" width="1" height="9" fill="#d80c0c" />
<rect x="1057.5" y="332.5" width="8" height="1" fill="#14171c" stroke="#d80c0c" stroke-width="1"/>
<rect x="1072" y="323" width="1" height="9" fill="#d80c0c" />
<rect x="1072" y="337" width="1" height="5" fill="#d80c0c" />
<rect x="1068.5" y="332.5" width="8" height="4" fill="#14171c" stroke="#d80c0c" stroke-width="1"/>
<rect x="1084" y="332" width="1" height="1" fill="#3ecfcf" />
<rect x="1084" y="352" width="1" height="2" fill="#3ecfcf" />
<rect x="1080" y="333" width="9" height="19" fill="#3ecfcf" />
<rect x="1095" y="348" width="1" height="1" fill="#d80c0c" />
<rect x="1095" y="361" width="1" height="2" fill="#d80c0c" />
<rect x="1091.5" y="349.5" width="8" height="11" fill="#14171c" stroke="#d80c0c" stroke-width="1"/>
<rect x="1107" y="345" width="1" height="8" fill="#3ecfcf" />
<rect x="1107" y="356" width="1" height="1" fill="#3ecfcf" />
<rect x="1103" y="353" width="9" height="3" fill="#3ecfcf" />
<rect x="1118" y="345" width="1" height="1" fill="#d80c0c" />
<rect x="1118" y="357" width="1" height="7" fill="#d80c0c" />
<rect x="1114.5" y="346.5" width="8" height="10" fill="#14171c" stroke="#d80c0c" stroke-width="1"/>
<rect x="1129" y="330" width="1" height="19" fill="#3ecfcf" />
<rect x="1129" y="351" width="1" height="3" fill="#3ecfcf" />
<rect x="1125" y="349" width="9" height="2" fill="#3ecfcf" />
<rect x="1141" y="349" width="1" height="5" fill="#3ecfcf" />
<rect x="1141" y="378" width="1" height="2" fill="#3ecfcf" />
<rect x="1137" y="354" width="9" height="24" fill="#3ecfcf" />
<rect x="1148.5" y="373.5" width="8" height="18" fill="#14171c" stroke="#d80c0c" stroke-width="1"/>
<rect x="1163" y="369" width="1" height="3" fill="#d80c0c" />
<rect x="1159.5" y="322.5" width="8" height="46" fill="#14171c" stroke="#d80c0c" stroke-width="1"/>
<rect x="1171.5" y="301.5" width="8" height="21" fill="#14171c" stroke="#d80c0c" stroke-width="1"/>
<rect x="1186" y="293" width="1" height="7" fill="#3ecfcf" />
<rect x="1186" y="312" width="1" height="2" fill="#3ecfcf" />
<rect x="1182" y="300" width="9" height="12" fill="#3ecfcf" />
<rect x="1197" y="304" width="1" height="7" fill="#3ecfcf" />
<rect x="1197" y="315" width="1" height="6" fill="#3ecfcf" />
<rect x="1193" y="311" width="9" height="4" fill="#3ecfcf" />
<rect x="1209" y="313" width="1" height="1" fill="#d80c0c" />
<rect x="1205.5" y="295.5" width="8" height="17" fill="#14171c" stroke="#d80c0c" stroke-width="1"/>
<rect x="1220" y="303" width="1" height="8" fill="#3ecfcf" />
<rect x="1216" y="294" width="9" height="9" fill="#3ecfcf" />
<rect x="1232" y="321" width="1" height="6" fill="#3ecfcf" />
<rect x="1228" y="307" width="9" height="14" fill="#3ecfcf" />
<rect x="1243" y="313" width="1" height="9" fill="#d80c0c" />
<rect x="1243" y="323" width="1" height="9" fill="#d80c0c" />
<rect x="1239" y="322" width="9" height="1" fill="#d80c0c" />
<rect x="1254" y="334" width="1" height="5" fill="#3ecfcf" />
<rect x="1250" y="320" width="9" height="14" fill="#3ecfcf" />
<rect x="1266" y="347" width="1" height="5" fill="#3ecfcf" />
<rect x="1262" y="335" width="9" height="12" fill="#3ecfcf" />
<rect x="1277" y="327" width="1" height="2" fill="#d80c0c" />
<rect x="1277" y="347" width="1" height="3" fill="#d80c0c" />
<rect x="1273.5" y="329.5" width="8" height="17" fill="#14171c" stroke="#d80c0c" stroke-width="1"/>
<rect x="1288" y="304" width="1" height="18" fill="#3ecfcf" />
<rect x="1284" y="322" width="9" height="9" fill="#3ecfcf" />
<rect x="1300" y="340" width="1" height="8" fill="#3ecfcf" />
<rect x="1296" y="336" width="9" height="4" fill="#3ecfcf" />
<rect x="1311" y="311" width="1" height="6" fill="#d80c0c" />
<rect x="1311" y="341" width="1" height="5" fill="#d80c0c" />
<rect x="1307.5" y="317.5" width="8" height="23" fill="#14171c" stroke="#d80c0c" stroke-width="1"/>
<rect x="1322" y="283" width="1" height="3" fill="#d80c0c" />
<rect x="1318.5" y="286.5" width="8" height="25" fill="#14171c" stroke="#d80c0c" stroke-width="1"/>
<rect x="1334" y="280" width="1" height="1" fill="#d80c0c" />
<rect x="1334" y="283" width="1" height="16" fill="#d80c0c" />
<rect x="1330.5" y="281.5" width="8" height="1" fill="#14171c" stroke="#d80c0c" stroke-width="1"/>
<rect x="1345" y="255" width="1" height="10" fill="#d80c0c" />
<rect x="1345" y="281" width="1" height="6" fill="#d80c0c" />
<rect x="1341.5" y="265.5" width="8" height="15" fill="#14171c" stroke="#d80c0c" stroke-width="1"/>
</g>
<polyline points="107.5,545.5 118.5,544.1 129.5,542.7 141.5,541.1 152.5,539.7 164.5,538.3 175.5,536.9 186.5,535.6 198.5,534.2 209.5,532.9 220.5,530.9 232.5,528.5 243.5,526.3 254.5,524.1 266.5,521.7 277.5,519.6 289.5,517.8 300.5,516.2 311.5,514.5 323.5,512.7 334.5,511.3 345.5,509.9 357.5,508.4 368.5,507.0 379.5,505.4 391.5,504.2 402.5,503.2 414.5,502.1 425.5,501.1 436.5,500.1 448.5,499.0 459.5,498.0 470.5,496.9 482.5,495.6 493.5,494.4 504.5,493.3 516.5,492.0 527.5,491.0 538.5,490.2 550.5,489.1 561.5,488.4 573.5,488.1 584.5,487.9 595.5,487.6 607.5,487.1 618.5,486.6 629.5,486.1 641.5,485.5 652.5,485.1 663.5,484.6 675.5,484.2 686.5,484.0 698.5,483.6 709.5,482.8 720.5,481.8 732.5,480.7 743.5,479.8 754.5,478.8 766.5,477.7 777.5,476.8 788.5,475.5 800.5,474.2 811.5,473.0 823.5,471.7 834.5,470.5 845.5,469.2 857.5,468.2 868.5,467.4 879.5,466.6 891.5,465.7 902.5,464.9 913.5,464.1 925.5,463.2 936.5,462.4 947.5,461.6 959.5,460.7 970.5,459.9 982.5,459.0 993.5,458.2 1004.5,457.2 1016.5,456.2 1027.5,455.2 1038.5,454.3 1050.5,453.3 1061.5,452.4 1072.5,451.5 1084.5,450.5 1095.5,449.6 1107.5,448.7 1118.5,447.8 1129.5,447.0 1141.5,446.0 1152.5,445.2 1163.5,444.3 1175.5,443.3 1186.5,442.3 1197.5,441.4 1209.5,440.4 1220.5,439.5 1232.5,438.3 1243.5,437.2 1254.5,436.2 1266.5,435.0 1277.5,434.0 1288.5,432.8 1300.5,431.4 1311.5,430.1 1322.5,428.9 1334.5,427.5 1345.5,426.2" fill="none" stroke="#3c6be0" stroke-width="1.0" stroke-linejoin="round" shape-rendering="crispEdges"/>
<polyline points="5.5,537.5 16.5,534.8 27.5,532.0 39.5,529.0 50.5,526.5 61.5,524.0 73.5,521.2 84.5,518.7 95.5,516.1 107.5,512.4 118.5,509.0 129.5,505.6 141.5,501.9 152.5,498.5 164.5,494.8 175.5,491.5 186.5,488.1 198.5,484.5 209.5,480.5 220.5,475.6 232.5,470.3 243.5,465.4 254.5,460.5 266.5,455.3 277.5,450.5 289.5,445.3 300.5,440.5 311.5,436.1 323.5,431.2 334.5,426.7 345.5,422.2 357.5,417.3 368.5,412.8 379.5,408.3 391.5,403.4 402.5,398.9 414.5,394.0 425.5,389.6 436.5,385.1 448.5,380.4 459.5,375.9 470.5,371.7 482.5,367.4 493.5,363.3 504.5,359.3 516.5,355.1 527.5,352.1 538.5,349.2 550.5,347.7 561.5,346.6 573.5,345.6 584.5,344.8 595.5,344.0 607.5,343.1 618.5,342.1 629.5,341.1 641.5,339.9 652.5,338.8 663.5,337.6 675.5,336.5 686.5,335.4 698.5,334.3 709.5,333.2 720.5,332.2 732.5,331.0 743.5,329.7 754.5,328.4 766.5,327.0 777.5,325.8 788.5,324.7 800.5,323.6 811.5,322.5 823.5,321.4 834.5,320.4 845.5,319.3 857.5,318.2 868.5,317.2 879.5,316.3 891.5,315.3 902.5,314.4 913.5,313.5 925.5,312.5 936.5,311.4 947.5,310.4 959.5,309.3 970.5,308.5 982.5,307.9 993.5,307.3 1004.5,306.8 1016.5,306.2 1027.5,306.0 1038.5,305.8 1050.5,305.6 1061.5,305.5 1072.5,305.4 1084.5,305.4 1095.5,305.4 1107.5,305.3 1118.5,305.3 1129.5,305.3 1141.5,305.3 1152.5,305.3 1163.5,305.3 1175.5,304.3 1186.5,303.4 1197.5,302.9 1209.5,302.4 1220.5,302.0 1232.5,301.0 1243.5,300.1 1254.5,299.2 1266.5,298.3 1277.5,297.4 1288.5,296.4 1300.5,295.4 1311.5,294.5 1322.5,293.5 1334.5,292.3 1345.5,291.2" fill="none" stroke="#2ec0d4" stroke-width="1.0" stroke-linejoin="round" shape-rendering="crispEdges"/>
<polyline points="5.5,408.0 16.5,406.5 27.5,404.9 39.5,403.3 50.5,401.4 61.5,399.2 73.5,396.9 84.5,394.7 95.5,392.5 107.5,390.3 118.5,388.4 129.5,386.4 141.5,384.2 152.5,382.4 164.5,380.3 175.5,378.4 186.5,376.6 198.5,374.5 209.5,370.7 220.5,366.6 232.5,362.2 243.5,357.0 254.5,351.5 266.5,345.5 277.5,340.4 289.5,336.2 300.5,332.4 311.5,329.6 323.5,326.6 334.5,323.1 345.5,319.5 357.5,315.5 368.5,312.2 379.5,309.8 391.5,307.1 402.5,304.7 414.5,302.3 425.5,299.5 436.5,296.1 448.5,292.3 459.5,288.8 470.5,285.4 482.5,283.3 493.5,281.3 504.5,279.3 516.5,277.2 527.5,275.2 538.5,273.3 550.5,272.1 561.5,271.2 573.5,270.1 584.5,269.2 595.5,268.2 607.5,267.2 618.5,266.1 629.5,265.1 641.5,264.5 652.5,264.4 663.5,264.4 675.5,264.3 686.5,264.3 698.5,263.5 709.5,262.6 720.5,261.6 732.5,261.1 743.5,260.9 754.5,260.7 766.5,260.5 777.5,260.2 788.5,259.9 800.5,259.6 811.5,259.3 823.5,259.0 834.5,258.7 845.5,258.5 857.5,258.4 868.5,258.3 879.5,258.5 891.5,260.2 902.5,261.9 913.5,263.5 925.5,266.6 936.5,269.7 947.5,272.7 959.5,276.0 970.5,278.9 982.5,281.9 993.5,284.6 1004.5,287.4 1016.5,290.3 1027.5,292.5 1038.5,295.4 1050.5,298.7 1061.5,301.6 1072.5,304.4 1084.5,307.1 1095.5,309.2 1107.5,312.9 1118.5,316.3 1129.5,319.7 1141.5,322.5 1152.5,325.1 1163.5,326.6 1175.5,327.8 1186.5,328.7 1197.5,329.4 1209.5,330.3 1220.5,330.6 1232.5,330.7 1243.5,330.7 1254.5,329.5 1266.5,328.0 1277.5,326.5 1288.5,325.1 1300.5,324.0 1311.5,323.4 1322.5,322.6 1334.5,320.6 1345.5,318.8" fill="none" stroke="#14964a" stroke-width="1.0" stroke-linejoin="round" shape-rendering="crispEdges"/>
<polyline points="5.5,411.4 16.5,411.7 27.5,413.4 39.5,412.6 50.5,411.1 61.5,409.8 73.5,408.9 84.5,407.9 95.5,406.4 107.5,399.2 118.5,391.0 129.5,380.0 141.5,368.4 152.5,357.7 164.5,348.5 175.5,340.0 186.5,332.6 198.5,323.6 209.5,315.0 220.5,303.0 232.5,290.2 243.5,277.9 254.5,265.9 266.5,253.7 277.5,241.1 289.5,233.4 300.5,227.8 311.5,219.4 323.5,211.6 334.5,205.2 345.5,199.0 357.5,192.4 368.5,186.4 379.5,181.2 391.5,176.8 402.5,171.4 414.5,167.2 425.5,161.5 436.5,159.6 448.5,159.3 459.5,163.4 470.5,167.6 482.5,172.8 493.5,179.0 504.5,185.2 516.5,187.1 527.5,189.1 538.5,193.1 550.5,197.7 561.5,205.5 573.5,218.8 584.5,235.6 595.5,250.5 607.5,263.4 618.5,272.6 629.5,282.5 641.5,292.6 652.5,304.5 663.5,316.4 675.5,328.0 686.5,335.5 698.5,343.0 709.5,346.9 720.5,351.9 732.5,356.7 743.5,362.1 754.5,365.9 766.5,367.3 777.5,367.5 788.5,366.2 800.5,358.5 811.5,348.9 823.5,338.3 834.5,330.5 845.5,324.1 857.5,319.6 868.5,314.5 879.5,308.9 891.5,303.1 902.5,297.7 913.5,294.6 925.5,291.6 936.5,291.0 947.5,290.6 959.5,290.5 970.5,288.6 982.5,288.7 993.5,291.0 1004.5,294.1 1016.5,296.5 1027.5,299.9 1038.5,301.9 1050.5,307.1 1061.5,311.3 1072.5,315.3 1084.5,318.9 1095.5,322.8 1107.5,326.6 1118.5,329.8 1129.5,332.8 1141.5,336.7 1152.5,339.7 1163.5,340.3 1175.5,339.0 1186.5,337.8 1197.5,337.4 1209.5,334.8 1220.5,332.6 1232.5,332.0 1243.5,332.2 1254.5,332.5 1266.5,334.0 1277.5,333.7 1288.5,333.7 1300.5,334.0 1311.5,332.3 1322.5,329.2 1334.5,325.4 1345.5,321.4" fill="none" stroke="#c846c8" stroke-width="1.0" stroke-linejoin="round" shape-rendering="crispEdges"/>
<polyline points="5.5,436.2 16.5,428.8 27.5,416.2 39.5,405.5 50.5,396.2 61.5,387.5 73.5,377.0 84.5,370.5 95.5,367.0 107.5,354.8 118.5,343.4 129.5,331.5 141.5,319.7 152.5,309.2 164.5,300.9 175.5,292.1 186.5,283.3 198.5,273.9 209.5,260.9 220.5,251.3 232.5,237.0 243.5,224.4 254.5,212.0 266.5,198.2 277.5,181.2 289.5,174.7 300.5,172.2 311.5,164.9 323.5,162.3 334.5,159.2 345.5,161.0 357.5,160.5 368.5,160.8 379.5,164.2 391.5,172.3 402.5,168.0 414.5,162.1 425.5,158.1 436.5,156.8 448.5,159.4 459.5,165.7 470.5,174.7 482.5,184.7 493.5,193.8 504.5,198.0 516.5,206.2 527.5,216.1 538.5,228.1 550.5,238.7 561.5,251.5 573.5,271.9 584.5,296.5 595.5,316.2 607.5,333.0 618.5,347.1 629.5,358.8 641.5,369.1 652.5,380.9 663.5,394.1 675.5,404.4 686.5,399.2 698.5,389.5 709.5,377.6 720.5,370.7 732.5,366.3 743.5,365.5 754.5,362.7 766.5,353.6 777.5,340.9 788.5,327.9 800.5,317.8 811.5,308.3 823.5,299.1 834.5,290.2 845.5,281.9 857.5,273.6 868.5,266.4 879.5,264.2 891.5,265.3 902.5,267.4 913.5,271.4 925.5,274.9 936.5,282.8 947.5,290.9 959.5,299.1 970.5,303.6 982.5,311.1 993.5,317.7 1004.5,322.9 1016.5,325.6 1027.5,328.3 1038.5,328.9 1050.5,331.3 1061.5,331.7 1072.5,331.4 1084.5,334.3 1095.5,334.6 1107.5,335.5 1118.5,336.7 1129.5,340.0 1141.5,345.1 1152.5,350.6 1163.5,349.4 1175.5,346.2 1186.5,344.2 1197.5,340.5 1209.5,335.1 1220.5,329.8 1232.5,327.3 1243.5,324.4 1254.5,320.0 1266.5,317.4 1277.5,318.1 1288.5,321.1 1300.5,323.9 1311.5,324.2 1322.5,323.3 1334.5,321.1 1345.5,315.6" fill="none" stroke="#ecd030" stroke-width="1.0" stroke-linejoin="round" shape-rendering="crispEdges"/>
<polyline points="5.5,408.0 16.5,396.2 27.5,384.5 39.5,380.5 50.5,375.4 61.5,371.8 73.5,363.1 84.5,359.1 95.5,353.8 107.5,334.1 118.5,315.1 129.5,299.9 141.5,280.3 152.5,264.7 164.5,267.8 175.5,269.1 186.5,266.7 198.5,267.5 209.5,257.1 220.5,234.8 232.5,204.8 243.5,182.1 254.5,156.4 266.5,139.2 277.5,127.7 289.5,144.6 300.5,162.4 311.5,173.4 323.5,185.4 334.5,190.7 345.5,177.5 357.5,158.6 368.5,148.2 379.5,142.9 391.5,154.0 402.5,158.5 414.5,165.7 425.5,167.9 436.5,170.6 448.5,164.9 459.5,172.9 470.5,183.7 482.5,201.5 493.5,216.9 504.5,231.2 516.5,239.4 527.5,248.6 538.5,254.8 550.5,260.5 561.5,271.9 573.5,304.4 584.5,344.5 595.5,377.6 607.5,405.5 618.5,422.4 629.5,413.2 641.5,393.8 652.5,384.1 663.5,382.7 675.5,386.5 686.5,385.2 698.5,385.2 709.5,371.1 720.5,358.8 732.5,346.1 743.5,345.8 754.5,340.2 766.5,336.2 777.5,323.1 788.5,309.8 800.5,289.8 811.5,276.4 823.5,262.0 834.5,257.4 845.5,253.9 857.5,257.6 868.5,256.4 879.5,266.4 891.5,273.3 902.5,280.9 913.5,285.3 925.5,293.5 936.5,299.2 947.5,308.6 959.5,317.3 970.5,321.8 982.5,328.6 993.5,336.2 1004.5,337.4 1016.5,333.9 1027.5,334.8 1038.5,329.1 1050.5,326.4 1061.5,326.1 1072.5,328.9 1084.5,333.9 1095.5,340.1 1107.5,344.6 1118.5,347.3 1129.5,351.0 1141.5,356.2 1152.5,361.0 1163.5,354.2 1175.5,345.2 1186.5,337.4 1197.5,324.8 1209.5,309.2 1220.5,305.3 1232.5,309.3 1243.5,311.4 1254.5,315.3 1266.5,325.6 1277.5,330.9 1288.5,332.9 1300.5,336.4 1311.5,333.0 1322.5,320.9 1334.5,311.3 1345.5,298.2" fill="none" stroke="#ff8c14" stroke-width="1.0" stroke-linejoin="round" shape-rendering="crispEdges"/>
<line x1="0" y1="265.5" x2="1381" y2="265.5" stroke="#4a4a50" stroke-width="1" shape-rendering="crispEdges"/>
<text x="203.60" y="87.6" font-size="18" fill="#ee3a44" textLength="43.40" lengthAdjust="spacingAndGlyphs" xml:space="preserve" stroke="#14171c" stroke-width="0.25">1.524</text>
<path d="M247.5 81.5 H266 M261 77 L266.5 81.5 L261 86" stroke="#c8c8c8" stroke-width="1" fill="none"/>
<text x="532.60" y="539" font-size="18" fill="#25ba4e" textLength="43.40" lengthAdjust="spacingAndGlyphs" xml:space="preserve" stroke="#14171c" stroke-width="0.25">1.033</text>
<path d="M576.5 533.5 H595 M590 529 L595.5 533.5 L590 538" stroke="#c8c8c8" stroke-width="1" fill="none"/>
<line x1="1382" y1="104.5" x2="1386" y2="104.5" stroke="#3b3b42" stroke-width="1" shape-rendering="crispEdges"/>
<text x="1386.40" y="111.4" font-size="18.4" fill="#b4b4b4" textLength="34.20" lengthAdjust="spacingAndGlyphs" xml:space="preserve" stroke="#14171c" stroke-width="0.25">1.50</text>
<line x1="1382" y1="196.5" x2="1386" y2="196.5" stroke="#3b3b42" stroke-width="1" shape-rendering="crispEdges"/>
<text x="1386.40" y="203.4" font-size="18.4" fill="#b4b4b4" textLength="34.20" lengthAdjust="spacingAndGlyphs" xml:space="preserve" stroke="#14171c" stroke-width="0.25">1.40</text>
<line x1="1382" y1="288.5" x2="1386" y2="288.5" stroke="#3b3b42" stroke-width="1" shape-rendering="crispEdges"/>
<text x="1386.40" y="295.4" font-size="18.4" fill="#b4b4b4" textLength="34.20" lengthAdjust="spacingAndGlyphs" xml:space="preserve" stroke="#14171c" stroke-width="0.25">1.30</text>
<line x1="1382" y1="380.5" x2="1386" y2="380.5" stroke="#3b3b42" stroke-width="1" shape-rendering="crispEdges"/>
<text x="1386.40" y="387.4" font-size="18.4" fill="#b4b4b4" textLength="34.20" lengthAdjust="spacingAndGlyphs" xml:space="preserve" stroke="#14171c" stroke-width="0.25">1.20</text>
<line x1="1382" y1="472.5" x2="1386" y2="472.5" stroke="#3b3b42" stroke-width="1" shape-rendering="crispEdges"/>
<text x="1386.40" y="479.4" font-size="18.4" fill="#b4b4b4" textLength="34.20" lengthAdjust="spacingAndGlyphs" xml:space="preserve" stroke="#14171c" stroke-width="0.25">1.10</text>
<path d="M1381.5 265.5 L1387 259.5 V254 H1458 V278 H1387 V271.5 Z" fill="#575864"/>
<text x="1395.60" y="270.7" font-size="18" fill="#ffffff" textLength="43.80" lengthAdjust="spacingAndGlyphs" xml:space="preserve" stroke="#575864" stroke-width="0.25">1.324</text>
<g shape-rendering="crispEdges">
<rect x="1.5" y="657.5" width="8" height="6" fill="none" stroke="#d80c0c" stroke-width="1"/>
<rect x="12.5" y="659.5" width="8" height="4" fill="none" stroke="#d80c0c" stroke-width="1"/>
<rect x="23.5" y="660.5" width="8" height="3" fill="none" stroke="#d80c0c" stroke-width="1"/>
<rect x="35.5" y="659.5" width="8" height="4" fill="none" stroke="#d80c0c" stroke-width="1"/>
<rect x="46" y="659" width="9" height="5" fill="#3ecfcf" />
<rect x="57.5" y="656.5" width="8" height="7" fill="none" stroke="#d80c0c" stroke-width="1"/>
<rect x="69.5" y="659.5" width="8" height="4" fill="none" stroke="#d80c0c" stroke-width="1"/>
<rect x="80" y="658" width="9" height="6" fill="#3ecfcf" />
<rect x="91.5" y="657.5" width="8" height="6" fill="none" stroke="#d80c0c" stroke-width="1"/>
<rect x="103.5" y="653.5" width="8" height="10" fill="none" stroke="#d80c0c" stroke-width="1"/>
<rect x="114" y="651" width="9" height="13" fill="#3ecfcf" />
<rect x="125.5" y="658.5" width="8" height="5" fill="none" stroke="#d80c0c" stroke-width="1"/>
<rect x="137" y="657" width="9" height="7" fill="#3ecfcf" />
<rect x="148.5" y="658.5" width="8" height="5" fill="none" stroke="#d80c0c" stroke-width="1"/>
<rect x="160" y="657" width="9" height="7" fill="#3ecfcf" />
<rect x="171.5" y="660.5" width="8" height="3" fill="none" stroke="#d80c0c" stroke-width="1"/>
<rect x="182.5" y="659.5" width="8" height="4" fill="none" stroke="#d80c0c" stroke-width="1"/>
<rect x="194" y="657" width="9" height="7" fill="#3ecfcf" />
<rect x="205.5" y="652.5" width="8" height="11" fill="none" stroke="#d80c0c" stroke-width="1"/>
<rect x="216.5" y="648.5" width="8" height="15" fill="none" stroke="#d80c0c" stroke-width="1"/>
<rect x="228.5" y="648.5" width="8" height="15" fill="none" stroke="#d80c0c" stroke-width="1"/>
<rect x="239" y="649" width="9" height="15" fill="#3ecfcf" />
<rect x="250" y="653" width="9" height="11" fill="#3ecfcf" />
<rect x="262.5" y="643.5" width="8" height="20" fill="none" stroke="#d80c0c" stroke-width="1"/>
<rect x="273" y="644" width="9" height="20" fill="#3ecfcf" />
<rect x="285" y="641" width="9" height="23" fill="#3ecfcf" />
<rect x="296" y="647" width="9" height="17" fill="#3ecfcf" />
<rect x="307.5" y="648.5" width="8" height="15" fill="none" stroke="#d80c0c" stroke-width="1"/>
<rect x="319.5" y="646.5" width="8" height="17" fill="none" stroke="#d80c0c" stroke-width="1"/>
<rect x="330.5" y="642.5" width="8" height="21" fill="none" stroke="#d80c0c" stroke-width="1"/>
<rect x="341" y="643" width="9" height="21" fill="#3ecfcf" />
<rect x="353.5" y="644.5" width="8" height="19" fill="none" stroke="#d80c0c" stroke-width="1"/>
<rect x="364" y="642" width="9" height="22" fill="#3ecfcf" />
<rect x="375" y="649" width="9" height="15" fill="#3ecfcf" />
<rect x="387" y="640" width="9" height="24" fill="#3ecfcf" />
<rect x="398.5" y="644.5" width="8" height="19" fill="none" stroke="#d80c0c" stroke-width="1"/>
<rect x="410.5" y="648.5" width="8" height="15" fill="none" stroke="#d80c0c" stroke-width="1"/>
<rect x="421.5" y="648.5" width="8" height="15" fill="none" stroke="#d80c0c" stroke-width="1"/>
<rect x="432" y="649" width="9" height="15" fill="#3ecfcf" />
<rect x="444" y="650" width="9" height="14" fill="#3ecfcf" />
<rect x="455" y="644" width="9" height="20" fill="#3ecfcf" />
<rect x="466" y="647" width="9" height="17" fill="#3ecfcf" />
<rect x="478" y="651" width="9" height="13" fill="#3ecfcf" />
<rect x="489.5" y="654.5" width="8" height="9" fill="none" stroke="#d80c0c" stroke-width="1"/>
<rect x="500" y="651" width="9" height="13" fill="#3ecfcf" />
<rect x="512" y="652" width="9" height="12" fill="#3ecfcf" />
<rect x="523" y="645" width="9" height="19" fill="#3ecfcf" />
<rect x="534" y="652" width="9" height="12" fill="#3ecfcf" />
<rect x="546.5" y="652.5" width="8" height="11" fill="none" stroke="#d80c0c" stroke-width="1"/>
<rect x="557" y="650" width="9" height="14" fill="#3ecfcf" />
<rect x="569" y="655" width="9" height="9" fill="#3ecfcf" />
<rect x="580" y="637" width="9" height="27" fill="#3ecfcf" />
<rect x="591.5" y="635.5" width="8" height="28" fill="none" stroke="#d80c0c" stroke-width="1"/>
<rect x="603.5" y="637.5" width="8" height="26" fill="none" stroke="#d80c0c" stroke-width="1"/>
<rect x="614.5" y="648.5" width="8" height="15" fill="none" stroke="#d80c0c" stroke-width="1"/>
<rect x="625.5" y="642.5" width="8" height="21" fill="none" stroke="#d80c0c" stroke-width="1"/>
<rect x="637" y="649" width="9" height="15" fill="#3ecfcf" />
<rect x="648" y="648" width="9" height="16" fill="#3ecfcf" />
<rect x="659" y="650" width="9" height="14" fill="#3ecfcf" />
<rect x="671" y="651" width="9" height="13" fill="#3ecfcf" />
<rect x="682.5" y="644.5" width="8" height="19" fill="none" stroke="#d80c0c" stroke-width="1"/>
<rect x="694" y="648" width="9" height="16" fill="#3ecfcf" />
<rect x="705.5" y="622.5" width="8" height="41" fill="none" stroke="#d80c0c" stroke-width="1"/>
<rect x="716" y="623" width="9" height="41" fill="#3ecfcf" />
<rect x="728.5" y="626.5" width="8" height="37" fill="none" stroke="#d80c0c" stroke-width="1"/>
<rect x="739" y="637" width="9" height="27" fill="#3ecfcf" />
<rect x="750.5" y="640.5" width="8" height="23" fill="none" stroke="#d80c0c" stroke-width="1"/>
<rect x="762.5" y="619.5" width="8" height="44" fill="none" stroke="#d80c0c" stroke-width="1"/>
<rect x="773.5" y="626.5" width="8" height="37" fill="none" stroke="#d80c0c" stroke-width="1"/>
<rect x="784.5" y="611.5" width="8" height="52" fill="none" stroke="#d80c0c" stroke-width="1"/>
<rect x="796.5" y="629.5" width="8" height="34" fill="none" stroke="#d80c0c" stroke-width="1"/>
<rect x="807" y="618" width="9" height="46" fill="#3ecfcf" />
<rect x="819.5" y="613.5" width="8" height="50" fill="none" stroke="#d80c0c" stroke-width="1"/>
<rect x="830" y="609" width="9" height="55" fill="#3ecfcf" />
<rect x="841" y="608" width="9" height="56" fill="#3ecfcf" />
<rect x="853" y="625" width="9" height="39" fill="#3ecfcf" />
<rect x="864.5" y="620.5" width="8" height="43" fill="none" stroke="#d80c0c" stroke-width="1"/>
<rect x="875" y="622" width="9" height="42" fill="#3ecfcf" />
<rect x="887" y="634" width="9" height="30" fill="#3ecfcf" />
<rect x="898" y="636" width="9" height="28" fill="#3ecfcf" />
<rect x="909" y="628" width="9" height="36" fill="#3ecfcf" />
<rect x="921" y="608" width="9" height="56" fill="#3ecfcf" />
<rect x="932.5" y="626.5" width="8" height="37" fill="none" stroke="#d80c0c" stroke-width="1"/>
<rect x="943" y="635" width="9" height="29" fill="#3ecfcf" />
<rect x="955" y="634" width="9" height="30" fill="#3ecfcf" />
<rect x="966.5" y="627.5" width="8" height="36" fill="none" stroke="#d80c0c" stroke-width="1"/>
<rect x="978" y="619" width="9" height="45" fill="#3ecfcf" />
<rect x="989.5" y="640.5" width="8" height="23" fill="none" stroke="#d80c0c" stroke-width="1"/>
<rect x="1000.5" y="634.5" width="8" height="29" fill="none" stroke="#d80c0c" stroke-width="1"/>
<rect x="1012.5" y="628.5" width="8" height="35" fill="none" stroke="#d80c0c" stroke-width="1"/>
<rect x="1023" y="639" width="9" height="25" fill="#3ecfcf" />
<rect x="1034.5" y="641.5" width="8" height="22" fill="none" stroke="#d80c0c" stroke-width="1"/>
<rect x="1046" y="630" width="9" height="34" fill="#3ecfcf" />
<rect x="1057.5" y="643.5" width="8" height="20" fill="none" stroke="#d80c0c" stroke-width="1"/>
<rect x="1068.5" y="642.5" width="8" height="21" fill="none" stroke="#d80c0c" stroke-width="1"/>
<rect x="1080" y="636" width="9" height="28" fill="#3ecfcf" />
<rect x="1091.5" y="642.5" width="8" height="21" fill="none" stroke="#d80c0c" stroke-width="1"/>
<rect x="1103" y="644" width="9" height="20" fill="#3ecfcf" />
<rect x="1114.5" y="640.5" width="8" height="23" fill="none" stroke="#d80c0c" stroke-width="1"/>
<rect x="1125" y="618" width="9" height="46" fill="#3ecfcf" />
<rect x="1137" y="623" width="9" height="41" fill="#3ecfcf" />
<rect x="1148.5" y="643.5" width="8" height="20" fill="none" stroke="#d80c0c" stroke-width="1"/>
<rect x="1159.5" y="600.5" width="8" height="63" fill="none" stroke="#d80c0c" stroke-width="1"/>
<rect x="1171.5" y="616.5" width="8" height="47" fill="none" stroke="#d80c0c" stroke-width="1"/>
<rect x="1182" y="619" width="9" height="45" fill="#3ecfcf" />
<rect x="1193" y="635" width="9" height="29" fill="#3ecfcf" />
<rect x="1205.5" y="634.5" width="8" height="29" fill="none" stroke="#d80c0c" stroke-width="1"/>
<rect x="1216" y="634" width="9" height="30" fill="#3ecfcf" />
<rect x="1228" y="632" width="9" height="32" fill="#3ecfcf" />
<rect x="1239" y="643" width="9" height="21" fill="#3ecfcf" />
<rect x="1250" y="632" width="9" height="32" fill="#3ecfcf" />
<rect x="1262" y="642" width="9" height="22" fill="#3ecfcf" />
<rect x="1273.5" y="640.5" width="8" height="23" fill="none" stroke="#d80c0c" stroke-width="1"/>
<rect x="1284" y="630" width="9" height="34" fill="#3ecfcf" />
<rect x="1296" y="631" width="9" height="33" fill="#3ecfcf" />
<rect x="1307.5" y="627.5" width="8" height="36" fill="none" stroke="#d80c0c" stroke-width="1"/>
<rect x="1318.5" y="614.5" width="8" height="49" fill="none" stroke="#d80c0c" stroke-width="1"/>
<rect x="1330.5" y="587.5" width="8" height="76" fill="none" stroke="#d80c0c" stroke-width="1"/>
<rect x="1341.5" y="605.5" width="8" height="58" fill="none" stroke="#d80c0c" stroke-width="1"/>
</g>
<polyline points="5.5,659.4 16.5,659.3 27.5,659.3 39.5,659.2 50.5,659.1 61.5,658.9 73.5,658.8 84.5,658.7 95.5,658.5 107.5,658.1 118.5,657.7 129.5,657.6 141.5,657.4 152.5,657.4 164.5,657.2 175.5,657.3 186.5,657.3 198.5,657.3 209.5,657.1 220.5,656.7 232.5,656.2 243.5,655.7 254.5,655.4 266.5,654.6 277.5,653.9 289.5,653.1 300.5,652.5 311.5,652.0 323.5,651.5 334.5,651.0 345.5,650.6 357.5,649.9 368.5,649.1 379.5,648.7 391.5,647.8 402.5,647.0 414.5,646.5 425.5,646.1 436.5,645.9 448.5,646.0 459.5,645.8 470.5,645.6 482.5,645.5 493.5,646.1 504.5,646.4 516.5,647.0 527.5,646.9 538.5,647.1 550.5,647.4 561.5,647.8 573.5,648.4 584.5,648.0 595.5,647.7 607.5,647.1 618.5,647.4 629.5,647.3 641.5,647.4 652.5,647.3 663.5,647.4 675.5,647.4 686.5,647.5 698.5,647.5 709.5,646.1 720.5,644.5 732.5,643.3 743.5,642.6 754.5,642.3 766.5,640.7 777.5,639.4 788.5,637.4 800.5,636.1 811.5,635.2 823.5,634.1 834.5,632.6 845.5,630.7 857.5,629.8 868.5,628.4 879.5,627.1 891.5,626.3 902.5,625.5 913.5,624.7 925.5,622.7 936.5,622.9 947.5,623.5 959.5,623.9 970.5,623.4 982.5,622.3 993.5,623.4 1004.5,623.8 1016.5,624.6 1027.5,625.1 1038.5,626.3 1050.5,627.1 1061.5,628.9 1072.5,630.6 1084.5,631.1 1095.5,632.2 1107.5,633.3 1118.5,633.6 1129.5,632.7 1141.5,632.5 1152.5,634.2 1163.5,632.9 1175.5,632.0 1186.5,631.2 1197.5,631.6 1209.5,632.4 1220.5,632.1 1232.5,632.0 1243.5,632.7 1254.5,632.4 1266.5,632.4 1277.5,633.0 1288.5,632.3 1300.5,631.7 1311.5,631.3 1322.5,629.9 1334.5,627.1 1345.5,625.3" fill="none" stroke="#c846c8" stroke-width="1" stroke-linejoin="round" shape-rendering="crispEdges"/>
<polyline points="5.5,658.3 16.5,658.3 27.5,658.3 39.5,658.2 50.5,658.1 61.5,657.8 73.5,657.9 84.5,658.0 95.5,658.0 107.5,657.6 118.5,657.0 129.5,656.9 141.5,656.6 152.5,656.5 164.5,656.3 175.5,656.7 186.5,656.7 198.5,656.6 209.5,656.2 220.5,655.7 232.5,655.5 243.5,654.6 254.5,654.2 266.5,652.7 277.5,651.4 289.5,649.5 300.5,648.3 311.5,647.4 323.5,646.8 334.5,646.2 345.5,645.7 357.5,645.2 368.5,644.1 379.5,644.6 391.5,644.2 402.5,644.6 414.5,644.7 425.5,644.7 436.5,645.0 448.5,645.8 459.5,645.8 470.5,646.1 482.5,647.0 493.5,647.6 504.5,648.6 516.5,649.4 527.5,649.1 538.5,649.4 550.5,649.8 561.5,649.8 573.5,650.9 584.5,649.9 595.5,648.3 607.5,646.6 618.5,646.2 629.5,645.2 641.5,645.7 652.5,645.2 663.5,645.0 675.5,645.1 686.5,644.0 698.5,645.2 709.5,643.9 720.5,642.5 732.5,640.4 743.5,639.9 754.5,638.9 766.5,636.1 777.5,633.7 788.5,629.7 800.5,628.1 811.5,625.1 823.5,624.2 834.5,622.8 845.5,621.0 857.5,619.7 868.5,617.8 879.5,618.1 891.5,618.9 902.5,621.4 913.5,621.3 925.5,620.3 936.5,621.6 947.5,624.2 959.5,626.8 970.5,627.0 982.5,626.9 993.5,628.7 1004.5,628.7 1016.5,627.9 1027.5,629.0 1038.5,632.3 1050.5,632.7 1061.5,633.5 1072.5,634.4 1084.5,635.3 1095.5,637.6 1107.5,638.0 1118.5,638.5 1129.5,637.6 1141.5,636.0 1152.5,636.2 1163.5,633.2 1175.5,630.5 1186.5,628.1 1197.5,628.0 1209.5,627.2 1220.5,626.2 1232.5,625.4 1243.5,627.9 1254.5,628.8 1266.5,628.7 1277.5,632.7 1288.5,634.1 1300.5,635.3 1311.5,634.6 1322.5,632.6 1334.5,627.9 1345.5,625.2" fill="none" stroke="#ff8c14" stroke-width="1" stroke-linejoin="round" shape-rendering="crispEdges"/>
<polyline points="5.5,657.2 16.5,657.5 27.5,658.0 39.5,658.3 50.5,658.6 61.5,658.4 73.5,658.4 84.5,658.1 95.5,657.7 107.5,656.6 118.5,655.6 129.5,655.4 141.5,655.1 152.5,655.3 164.5,656.0 175.5,657.9 186.5,658.1 198.5,658.2 209.5,657.1 220.5,655.4 232.5,653.0 243.5,651.0 254.5,650.1 266.5,648.3 277.5,647.5 289.5,646.0 300.5,645.6 311.5,644.7 323.5,645.3 334.5,644.9 345.5,645.4 357.5,644.7 368.5,643.5 379.5,644.0 391.5,643.5 402.5,643.8 414.5,644.7 425.5,645.9 436.5,646.0 448.5,648.0 459.5,647.9 470.5,647.6 482.5,648.1 493.5,649.1 504.5,649.3 516.5,650.9 527.5,650.5 538.5,650.8 550.5,650.4 561.5,650.3 573.5,650.9 584.5,649.2 595.5,645.8 607.5,642.8 618.5,642.2 629.5,639.6 641.5,642.1 652.5,644.7 663.5,647.3 675.5,647.9 686.5,648.4 698.5,648.3 709.5,643.2 720.5,637.8 732.5,632.8 743.5,631.3 754.5,629.6 766.5,629.0 777.5,629.6 788.5,626.6 800.5,625.0 811.5,620.6 823.5,619.4 834.5,615.9 845.5,615.3 857.5,614.5 868.5,615.0 879.5,616.8 891.5,621.8 902.5,627.4 913.5,628.1 925.5,625.6 936.5,626.4 947.5,626.6 959.5,626.2 970.5,625.9 982.5,628.1 993.5,631.0 1004.5,630.9 1016.5,629.6 1027.5,632.0 1038.5,636.5 1050.5,634.4 1061.5,636.2 1072.5,639.2 1084.5,638.6 1095.5,638.8 1107.5,641.6 1118.5,640.9 1129.5,636.0 1141.5,633.4 1152.5,633.6 1163.5,624.8 1175.5,620.1 1186.5,620.2 1197.5,622.6 1209.5,620.8 1220.5,627.5 1232.5,630.7 1243.5,635.5 1254.5,635.1 1266.5,636.6 1277.5,637.9 1288.5,637.5 1300.5,635.1 1311.5,634.1 1322.5,628.6 1334.5,618.0 1345.5,613.0" fill="none" stroke="#ffffff" stroke-width="1" stroke-linejoin="round" shape-rendering="crispEdges"/>
<path d="M1381.5 604.5 L1387 598.5 V594 H1458 V618 H1387 V610.5 Z" fill="#575864"/>
<text x="1395.00" y="611" font-size="18" fill="#ffffff" textLength="28.40" lengthAdjust="spacingAndGlyphs" xml:space="preserve" stroke="#575864" stroke-width="0.25">162</text>
<text x="1422.43" y="611.1" font-size="17.6" fill="#ffffff">万</text>
<text x="1386.40" y="659.2" font-size="18.4" fill="#b4b4b4" textLength="10.23" lengthAdjust="spacingAndGlyphs" xml:space="preserve" stroke="#14171c" stroke-width="0.25">0</text>
<rect x="0" y="562" width="22.5" height="22.5" fill="#24262c" rx="3"/>
<text x="7.00" y="579.5" font-size="18.4" fill="#f2f2f2" textLength="10.23" lengthAdjust="spacingAndGlyphs" xml:space="preserve" stroke="#24262c" stroke-width="0.25">?</text>
<text x="25.00" y="579.5" font-size="18.4" fill="#f2f2f2" textLength="62.60" lengthAdjust="spacingAndGlyphs" xml:space="preserve" stroke="#14171c" stroke-width="0.25">VOL: 38</text>
<text x="86.63" y="579.6" font-size="17.6" fill="#f2f2f2">万</text>
<text x="113.40" y="579.5" font-size="18.4" fill="#f2f2f2" textLength="77.20" lengthAdjust="spacingAndGlyphs" xml:space="preserve" stroke="#14171c" stroke-width="0.25">MA(5): 46</text>
<text x="189.83" y="579.6" font-size="17.6" fill="#f2f2f2">万</text>
<text x="215.60" y="579.5" font-size="18.4" fill="#ff8a00" textLength="87.60" lengthAdjust="spacingAndGlyphs" xml:space="preserve" stroke="#14171c" stroke-width="0.25">MA(10): 52</text>
<text x="302.43" y="579.6" font-size="17.6" fill="#ff8a00">万</text>
<text x="328.60" y="579.5" font-size="18.4" fill="#c846c8" textLength="87.80" lengthAdjust="spacingAndGlyphs" xml:space="preserve" stroke="#14171c" stroke-width="0.25">MA(20): 45</text>
<text x="415.63" y="579.6" font-size="17.6" fill="#c846c8">万</text>
<g shape-rendering="crispEdges">
<rect x="5" y="728.5" width="1" height="6" fill="#d80c0c" />
<rect x="16" y="726.5" width="1" height="8" fill="#d80c0c" />
<rect x="27" y="726.5" width="1" height="8" fill="#d80c0c" />
<rect x="39" y="724.5" width="1" height="10" fill="#d80c0c" />
<rect x="50" y="724.5" width="1" height="10" fill="#d80c0c" />
<rect x="61" y="725.5" width="1" height="9" fill="#d80c0c" />
<rect x="73" y="724.5" width="1" height="10" fill="#d80c0c" />
<rect x="84" y="724.5" width="1" height="10" fill="#d80c0c" />
<rect x="95" y="723.5" width="1" height="11" fill="#d80c0c" />
<rect x="107" y="718.5" width="1" height="16" fill="#d80c0c" />
<rect x="118" y="717.5" width="1" height="17" fill="#d80c0c" />
<rect x="129" y="717.5" width="1" height="17" fill="#d80c0c" />
<rect x="141" y="716.5" width="1" height="18" fill="#d80c0c" />
<rect x="152" y="717.5" width="1" height="17" fill="#d80c0c" />
<rect x="164" y="722.5" width="1" height="12" fill="#d80c0c" />
<rect x="175" y="724.5" width="1" height="10" fill="#d80c0c" />
<rect x="186" y="726.5" width="1" height="8" fill="#d80c0c" />
<rect x="198" y="727.5" width="1" height="7" fill="#d80c0c" />
<rect x="209" y="725.5" width="1" height="9" fill="#d80c0c" />
<rect x="220" y="722.5" width="1" height="12" fill="#d80c0c" />
<rect x="232" y="718.5" width="1" height="16" fill="#d80c0c" />
<rect x="243" y="716.5" width="1" height="18" fill="#d80c0c" />
<rect x="254" y="717.5" width="1" height="17" fill="#d80c0c" />
<rect x="266" y="717.5" width="1" height="17" fill="#d80c0c" />
<rect x="277" y="719.5" width="1" height="15" fill="#d80c0c" />
<rect x="289" y="729.5" width="1" height="5" fill="#d80c0c" />
<rect x="300" y="734.5" width="1" height="2" fill="#3ecfcf" />
<rect x="311" y="734.5" width="1" height="5" fill="#3ecfcf" />
<rect x="323" y="734.5" width="1" height="6" fill="#3ecfcf" />
<rect x="334" y="734.5" width="1" height="4" fill="#3ecfcf" />
<rect x="345" y="734.5" width="1" height="3" fill="#3ecfcf" />
<rect x="357" y="734.5" width="1" height="2" fill="#3ecfcf" />
<rect x="368" y="734.5" width="1" height="2" fill="#3ecfcf" />
<rect x="379" y="734.5" width="1" height="3" fill="#3ecfcf" />
<rect x="391" y="734.5" width="1" height="8" fill="#3ecfcf" />
<rect x="402" y="734.5" width="1" height="9" fill="#3ecfcf" />
<rect x="414" y="734.5" width="1" height="9" fill="#3ecfcf" />
<rect x="425" y="734.5" width="1" height="8" fill="#3ecfcf" />
<rect x="436" y="734.5" width="1" height="8" fill="#3ecfcf" />
<rect x="448" y="734.5" width="1" height="9" fill="#3ecfcf" />
<rect x="459" y="734.5" width="1" height="12" fill="#3ecfcf" />
<rect x="470" y="734.5" width="1" height="15" fill="#3ecfcf" />
<rect x="482" y="734.5" width="1" height="18" fill="#3ecfcf" />
<rect x="493" y="734.5" width="1" height="18" fill="#3ecfcf" />
<rect x="504" y="734.5" width="1" height="18" fill="#3ecfcf" />
<rect x="516" y="734.5" width="1" height="18" fill="#3ecfcf" />
<rect x="527" y="734.5" width="1" height="18" fill="#3ecfcf" />
<rect x="538" y="734.5" width="1" height="18" fill="#3ecfcf" />
<rect x="550" y="734.5" width="1" height="16" fill="#3ecfcf" />
<rect x="561" y="734.5" width="1" height="16" fill="#3ecfcf" />
<rect x="573" y="734.5" width="1" height="25" fill="#3ecfcf" />
<rect x="584" y="734.5" width="1" height="34" fill="#3ecfcf" />
<rect x="595" y="734.5" width="1" height="34" fill="#3ecfcf" />
<rect x="607" y="734.5" width="1" height="30" fill="#3ecfcf" />
<rect x="618" y="734.5" width="1" height="23" fill="#3ecfcf" />
<rect x="629" y="734.5" width="1" height="17" fill="#3ecfcf" />
<rect x="641" y="734.5" width="1" height="11" fill="#3ecfcf" />
<rect x="652" y="734.5" width="1" height="9" fill="#3ecfcf" />
<rect x="663" y="734.5" width="1" height="6" fill="#3ecfcf" />
<rect x="675" y="734.5" width="1" height="4" fill="#3ecfcf" />
<rect x="698" y="732.5" width="1" height="2" fill="#d80c0c" />
<rect x="709" y="726.5" width="1" height="8" fill="#d80c0c" />
<rect x="720" y="723.5" width="1" height="11" fill="#d80c0c" />
<rect x="732" y="722.5" width="1" height="12" fill="#d80c0c" />
<rect x="743" y="722.5" width="1" height="12" fill="#d80c0c" />
<rect x="754" y="722.5" width="1" height="12" fill="#d80c0c" />
<rect x="766" y="718.5" width="1" height="16" fill="#d80c0c" />
<rect x="777" y="714.5" width="1" height="20" fill="#d80c0c" />
<rect x="788" y="712.5" width="1" height="22" fill="#d80c0c" />
<rect x="800" y="712.5" width="1" height="22" fill="#d80c0c" />
<rect x="811" y="713.5" width="1" height="21" fill="#d80c0c" />
<rect x="823" y="712.5" width="1" height="22" fill="#d80c0c" />
<rect x="834" y="713.5" width="1" height="21" fill="#d80c0c" />
<rect x="845" y="715.5" width="1" height="19" fill="#d80c0c" />
<rect x="857" y="720.5" width="1" height="14" fill="#d80c0c" />
<rect x="868" y="724.5" width="1" height="10" fill="#d80c0c" />
<rect x="879" y="726.5" width="1" height="8" fill="#d80c0c" />
<rect x="891" y="729.5" width="1" height="5" fill="#d80c0c" />
<rect x="902" y="732.5" width="1" height="2" fill="#d80c0c" />
<rect x="925" y="734.5" width="1" height="2" fill="#3ecfcf" />
<rect x="936" y="734.5" width="1" height="3" fill="#3ecfcf" />
<rect x="947" y="734.5" width="1" height="5" fill="#3ecfcf" />
<rect x="959" y="734.5" width="1" height="8" fill="#3ecfcf" />
<rect x="970" y="734.5" width="1" height="7" fill="#3ecfcf" />
<rect x="982" y="734.5" width="1" height="8" fill="#3ecfcf" />
<rect x="993" y="734.5" width="1" height="8" fill="#3ecfcf" />
<rect x="1004" y="734.5" width="1" height="7" fill="#3ecfcf" />
<rect x="1016" y="734.5" width="1" height="4" fill="#3ecfcf" />
<rect x="1027" y="734.5" width="1" height="3" fill="#3ecfcf" />
<rect x="1038" y="734.5" width="1" height="1" fill="#3ecfcf" />
<rect x="1050" y="734.5" width="1" height="1" fill="#3ecfcf" />
<rect x="1061" y="734.5" width="1" height="1" fill="#3ecfcf" />
<rect x="1084" y="734.5" width="1" height="2" fill="#3ecfcf" />
<rect x="1095" y="734.5" width="1" height="2" fill="#3ecfcf" />
<rect x="1107" y="734.5" width="1" height="2" fill="#3ecfcf" />
<rect x="1118" y="734.5" width="1" height="2" fill="#3ecfcf" />
<rect x="1129" y="734.5" width="1" height="2" fill="#3ecfcf" />
<rect x="1141" y="734.5" width="1" height="3" fill="#3ecfcf" />
<rect x="1152" y="734.5" width="1" height="3" fill="#3ecfcf" />
<rect x="1175" y="730.5" width="1" height="4" fill="#d80c0c" />
<rect x="1186" y="728.5" width="1" height="6" fill="#d80c0c" />
<rect x="1197" y="727.5" width="1" height="7" fill="#d80c0c" />
<rect x="1209" y="725.5" width="1" height="9" fill="#d80c0c" />
<rect x="1220" y="725.5" width="1" height="9" fill="#d80c0c" />
<rect x="1232" y="727.5" width="1" height="7" fill="#d80c0c" />
<rect x="1243" y="728.5" width="1" height="6" fill="#d80c0c" />
<rect x="1254" y="731.5" width="1" height="3" fill="#d80c0c" />
<rect x="1266" y="733.5" width="1" height="1" fill="#d80c0c" />
<rect x="1277" y="733.5" width="1" height="1" fill="#d80c0c" />
<rect x="1311" y="733.5" width="1" height="1" fill="#d80c0c" />
<rect x="1322" y="730.5" width="1" height="4" fill="#d80c0c" />
<rect x="1334" y="728.5" width="1" height="6" fill="#d80c0c" />
<rect x="1345" y="725.5" width="1" height="9" fill="#d80c0c" />
</g>
<polyline points="5.5,739.8 16.5,738.6 27.5,737.5 39.5,736.5 50.5,735.5 61.5,734.2 73.5,733.0 84.5,731.5 95.5,730.0 107.5,728.0 118.5,725.5 129.5,723.0 141.5,721.1 152.5,719.2 164.5,717.8 175.5,716.2 186.5,715.0 198.5,713.8 209.5,712.5 220.5,711.2 232.5,709.4 243.5,707.5 254.5,705.5 266.5,703.5 277.5,701.2 289.5,699.8 300.5,701.0 311.5,702.5 323.5,703.5 334.5,703.9 345.5,704.2 357.5,704.8 368.5,705.0 379.5,706.1 391.5,707.6 402.5,708.6 414.5,709.9 425.5,711.4 436.5,712.4 448.5,713.6 459.5,715.1 470.5,716.8 482.5,718.8 493.5,722.1 504.5,724.6 516.5,727.1 527.5,729.6 538.5,732.1 550.5,734.4 561.5,736.0 573.5,739.8 584.5,743.6 595.5,748.6 607.5,752.5 618.5,756.1 629.5,757.8 641.5,760.1 652.5,760.4 663.5,761.4 675.5,761.8 686.5,761.8 698.5,760.5 709.5,759.2 720.5,758.1 732.5,756.9 743.5,754.6 754.5,752.8 766.5,752.0 777.5,749.1 788.5,746.9 800.5,743.8 811.5,741.5 823.5,738.0 834.5,736.0 845.5,733.6 857.5,732.4 868.5,730.8 879.5,729.2 891.5,728.6 902.5,728.8 913.5,728.8 925.5,729.5 936.5,730.1 947.5,731.1 959.5,731.8 970.5,733.2 982.5,734.6 993.5,735.9 1004.5,737.0 1016.5,737.2 1027.5,737.4 1038.5,738.4 1050.5,738.9 1061.5,738.9 1072.5,739.5 1084.5,739.5 1095.5,739.5 1107.5,739.9 1118.5,740.2 1129.5,741.1 1141.5,741.1 1152.5,741.9 1163.5,741.2 1175.5,740.5 1186.5,740.2 1197.5,739.1 1209.5,738.6 1220.5,737.1 1232.5,736.1 1243.5,735.2 1254.5,735.2 1266.5,735.4 1277.5,735.2 1288.5,734.9 1300.5,735.0 1311.5,734.8 1322.5,734.2 1334.5,733.2 1345.5,732.9" fill="none" stroke="#ff8c14" stroke-width="1" stroke-linejoin="round" shape-rendering="crispEdges"/>
<polyline points="5.5,736.2 16.5,735.0 27.5,733.8 39.5,731.9 50.5,730.0 61.5,728.4 73.5,726.8 84.5,725.9 95.5,725.0 107.5,720.5 118.5,717.4 129.5,714.2 141.5,712.2 152.5,711.5 164.5,711.4 175.5,711.4 186.5,711.3 198.5,711.2 209.5,708.1 220.5,705.0 232.5,701.9 243.5,698.8 254.5,697.1 266.5,695.5 277.5,693.0 289.5,698.8 300.5,703.0 311.5,705.5 323.5,706.2 334.5,706.2 345.5,706.2 357.5,706.2 368.5,706.0 379.5,707.5 391.5,711.8 402.5,713.0 414.5,714.2 425.5,715.2 436.5,716.2 448.5,718.0 459.5,721.1 470.5,724.2 482.5,727.6 493.5,731.0 504.5,733.5 516.5,736.0 527.5,738.5 538.5,741.0 550.5,742.2 561.5,744.2 573.5,752.2 584.5,760.5 595.5,765.5 607.5,767.5 618.5,767.5 629.5,766.2 641.5,765.5 652.5,764.8 663.5,764.2 675.5,763.8 686.5,761.8 698.5,759.2 709.5,755.0 720.5,752.5 732.5,750.6 743.5,748.8 754.5,746.5 766.5,744.2 777.5,739.2 788.5,736.0 800.5,732.5 811.5,731.0 823.5,726.8 834.5,725.5 845.5,724.2 857.5,725.5 868.5,725.5 879.5,725.5 891.5,726.2 902.5,727.5 913.5,728.8 925.5,730.5 936.5,731.8 947.5,733.8 959.5,735.5 970.5,736.8 982.5,738.8 993.5,740.0 1004.5,740.5 1016.5,739.2 1027.5,738.8 1038.5,738.8 1050.5,739.2 1061.5,739.2 1072.5,739.8 1084.5,740.5 1095.5,740.5 1107.5,740.9 1118.5,741.2 1129.5,741.9 1141.5,742.5 1152.5,743.5 1163.5,741.2 1175.5,738.8 1186.5,737.2 1197.5,735.5 1209.5,734.2 1220.5,732.5 1232.5,732.5 1243.5,732.5 1254.5,733.8 1266.5,734.8 1277.5,734.8 1288.5,734.9 1300.5,735.0 1311.5,734.2 1322.5,732.5 1334.5,730.5 1345.5,728.5" fill="none" stroke="#ffffff" stroke-width="1" stroke-linejoin="round" shape-rendering="crispEdges"/>
<text x="1386.40" y="741" font-size="18.4" fill="#b4b4b4" textLength="44.60" lengthAdjust="spacingAndGlyphs" xml:space="preserve" stroke="#14171c" stroke-width="0.25">0.000</text>
<line x1="1382" y1="734.5" x2="1387" y2="734.5" stroke="#3b3b42" stroke-width="1" shape-rendering="crispEdges"/>
<path d="M1381.5 724.5 L1387 718.5 V714 H1458 V738 H1387 V730.5 Z" fill="#575864"/>
<text x="1394.60" y="731" font-size="18" fill="#30c3e0" textLength="53.40" lengthAdjust="spacingAndGlyphs" xml:space="preserve" stroke="#575864" stroke-width="0.25">0.0149</text>
<rect x="0" y="668" width="22.5" height="22.5" fill="#24262c" rx="3"/>
<text x="7.00" y="685.8" font-size="18.4" fill="#f2f2f2" textLength="10.23" lengthAdjust="spacingAndGlyphs" xml:space="preserve" stroke="#24262c" stroke-width="0.25">?</text>
<text x="25.40" y="685.8" font-size="18.4" fill="#f2f2f2" textLength="122.00" lengthAdjust="spacingAndGlyphs" xml:space="preserve" stroke="#14171c" stroke-width="0.25">MACD(12,26,9)</text>
<text x="154.40" y="685.8" font-size="18.4" fill="#f2f2f2" textLength="96.20" lengthAdjust="spacingAndGlyphs" xml:space="preserve" stroke="#14171c" stroke-width="0.25">DIF: -0.0536</text>
<text x="258.00" y="685.8" font-size="18.4" fill="#ff8a00" textLength="101.00" lengthAdjust="spacingAndGlyphs" xml:space="preserve" stroke="#14171c" stroke-width="0.25">DEA: -0.0471</text>
<text x="367.00" y="685.8" font-size="18.4" fill="#30c3d6" textLength="122.40" lengthAdjust="spacingAndGlyphs" xml:space="preserve" stroke="#14171c" stroke-width="0.25">MACD: -0.0131</text>
<rect x="1439" y="670" width="19" height="19" fill="#26272d" rx="2"/>
<path d="M1441.5 672.5 L1455.5 686.5 M1455.5 672.5 L1441.5 686.5" stroke="#b8b8b8" stroke-width="1.1" fill="none"/>
<line x1="5.5" y1="773" x2="5.5" y2="793" stroke="#3b3b42" stroke-width="1" shape-rendering="crispEdges"/>
<text x="8.10" y="792.3" font-size="18.4" fill="#b4b4b4" textLength="46.00" lengthAdjust="spacingAndGlyphs" xml:space="preserve" stroke="#14171c" stroke-width="0.25">25-01</text>
<line x1="95.5" y1="773" x2="95.5" y2="793" stroke="#3b3b42" stroke-width="1" shape-rendering="crispEdges"/>
<text x="98.10" y="792.3" font-size="18.4" fill="#b4b4b4" textLength="46.00" lengthAdjust="spacingAndGlyphs" xml:space="preserve" stroke="#14171c" stroke-width="0.25">25-02</text>
<line x1="300.5" y1="773" x2="300.5" y2="793" stroke="#3b3b42" stroke-width="1" shape-rendering="crispEdges"/>
<text x="303.10" y="792.3" font-size="18.4" fill="#b4b4b4" textLength="46.00" lengthAdjust="spacingAndGlyphs" xml:space="preserve" stroke="#14171c" stroke-width="0.25">25-03</text>
<line x1="538.5" y1="773" x2="538.5" y2="793" stroke="#3b3b42" stroke-width="1" shape-rendering="crispEdges"/>
<text x="541.10" y="792.3" font-size="18.4" fill="#b4b4b4" textLength="46.00" lengthAdjust="spacingAndGlyphs" xml:space="preserve" stroke="#14171c" stroke-width="0.25">25-04</text>
<line x1="777.5" y1="773" x2="777.5" y2="793" stroke="#3b3b42" stroke-width="1" shape-rendering="crispEdges"/>
<text x="780.10" y="792.3" font-size="18.4" fill="#b4b4b4" textLength="46.00" lengthAdjust="spacingAndGlyphs" xml:space="preserve" stroke="#14171c" stroke-width="0.25">25-05</text>
<line x1="993.5" y1="773" x2="993.5" y2="793" stroke="#3b3b42" stroke-width="1" shape-rendering="crispEdges"/>
<text x="996.10" y="792.3" font-size="18.4" fill="#b4b4b4" textLength="46.00" lengthAdjust="spacingAndGlyphs" xml:space="preserve" stroke="#14171c" stroke-width="0.25">25-06</text>
<line x1="1220.5" y1="773" x2="1220.5" y2="793" stroke="#3b3b42" stroke-width="1" shape-rendering="crispEdges"/>
<text x="1223.10" y="792.3" font-size="18.4" fill="#b4b4b4" textLength="46.00" lengthAdjust="spacingAndGlyphs" xml:space="preserve" stroke="#14171c" stroke-width="0.25">25-07</text>
<line x1="27.5" y1="773" x2="27.5" y2="778" stroke="#3b3b42" stroke-width="1" shape-rendering="crispEdges"/>
<line x1="84.5" y1="773" x2="84.5" y2="778" stroke="#3b3b42" stroke-width="1" shape-rendering="crispEdges"/>
<line x1="129.5" y1="773" x2="129.5" y2="778" stroke="#3b3b42" stroke-width="1" shape-rendering="crispEdges"/>
<line x1="186.5" y1="773" x2="186.5" y2="778" stroke="#3b3b42" stroke-width="1" shape-rendering="crispEdges"/>
<line x1="243.5" y1="773" x2="243.5" y2="778" stroke="#3b3b42" stroke-width="1" shape-rendering="crispEdges"/>
<line x1="357.5" y1="773" x2="357.5" y2="778" stroke="#3b3b42" stroke-width="1" shape-rendering="crispEdges"/>
<line x1="414.5" y1="773" x2="414.5" y2="778" stroke="#3b3b42" stroke-width="1" shape-rendering="crispEdges"/>
<line x1="470.5" y1="773" x2="470.5" y2="778" stroke="#3b3b42" stroke-width="1" shape-rendering="crispEdges"/>
<line x1="527.5" y1="773" x2="527.5" y2="778" stroke="#3b3b42" stroke-width="1" shape-rendering="crispEdges"/>
<line x1="573.5" y1="773" x2="573.5" y2="778" stroke="#3b3b42" stroke-width="1" shape-rendering="crispEdges"/>
<line x1="629.5" y1="773" x2="629.5" y2="778" stroke="#3b3b42" stroke-width="1" shape-rendering="crispEdges"/>
<line x1="686.5" y1="773" x2="686.5" y2="778" stroke="#3b3b42" stroke-width="1" shape-rendering="crispEdges"/>
<line x1="743.5" y1="773" x2="743.5" y2="778" stroke="#3b3b42" stroke-width="1" shape-rendering="crispEdges"/>
<line x1="823.5" y1="773" x2="823.5" y2="778" stroke="#3b3b42" stroke-width="1" shape-rendering="crispEdges"/>
<line x1="879.5" y1="773" x2="879.5" y2="778" stroke="#3b3b42" stroke-width="1" shape-rendering="crispEdges"/>
<line x1="936.5" y1="773" x2="936.5" y2="778" stroke="#3b3b42" stroke-width="1" shape-rendering="crispEdges"/>
<line x1="1038.5" y1="773" x2="1038.5" y2="778" stroke="#3b3b42" stroke-width="1" shape-rendering="crispEdges"/>
<line x1="1095.5" y1="773" x2="1095.5" y2="778" stroke="#3b3b42" stroke-width="1" shape-rendering="crispEdges"/>
<line x1="1152.5" y1="773" x2="1152.5" y2="778" stroke="#3b3b42" stroke-width="1" shape-rendering="crispEdges"/>
<line x1="1209.5" y1="773" x2="1209.5" y2="778" stroke="#3b3b42" stroke-width="1" shape-rendering="crispEdges"/>
<line x1="1266.5" y1="773" x2="1266.5" y2="778" stroke="#3b3b42" stroke-width="1" shape-rendering="crispEdges"/>
<line x1="1322.5" y1="773" x2="1322.5" y2="778" stroke="#3b3b42" stroke-width="1" shape-rendering="crispEdges"/>
<rect x="0" y="801" width="1460" height="19" fill="#232429" />
<rect x="507" y="801" width="99" height="19" fill="#52535e" />
<line x1="96.5" y1="801" x2="96.5" y2="820" stroke="#0f1013" stroke-width="1" shape-rendering="crispEdges"/>
<line x1="193.5" y1="801" x2="193.5" y2="820" stroke="#0f1013" stroke-width="1" shape-rendering="crispEdges"/>
<line x1="344.5" y1="801" x2="344.5" y2="820" stroke="#0f1013" stroke-width="1" shape-rendering="crispEdges"/>
<line x1="431.5" y1="801" x2="431.5" y2="820" stroke="#0f1013" stroke-width="1" shape-rendering="crispEdges"/>
<line x1="506.5" y1="801" x2="506.5" y2="820" stroke="#0f1013" stroke-width="1" shape-rendering="crispEdges"/>
<line x1="606.5" y1="801" x2="606.5" y2="820" stroke="#0f1013" stroke-width="1" shape-rendering="crispEdges"/>
<line x1="676.5" y1="801" x2="676.5" y2="820" stroke="#0f1013" stroke-width="1" shape-rendering="crispEdges"/>
<line x1="754.5" y1="801" x2="754.5" y2="820" stroke="#0f1013" stroke-width="1" shape-rendering="crispEdges"/>
<line x1="843.5" y1="801" x2="843.5" y2="820" stroke="#0f1013" stroke-width="1" shape-rendering="crispEdges"/>
<line x1="877.5" y1="801" x2="877.5" y2="820" stroke="#0f1013" stroke-width="1" shape-rendering="crispEdges"/>
<text x="9.93" y="822.1" font-size="19.35" fill="#f2f2f2" textLength="55.3" lengthAdjust="spacing">市盈率</text>
<text x="106.33" y="822.1" font-size="19.35" fill="#f2f2f2" textLength="55.3" lengthAdjust="spacing">市净率</text>
<text x="202.92" y="822.1" font-size="19.35" fill="#f2f2f2" textLength="109.3" lengthAdjust="spacing">基金份额变动</text>
<text x="355.00" y="822.5" font-size="18.4" fill="#f2f2f2" textLength="43.00" lengthAdjust="spacingAndGlyphs" xml:space="preserve" stroke="#232429" stroke-width="0.25">BOLL</text>
<text x="442.00" y="822.5" font-size="18.4" fill="#f2f2f2" textLength="31.60" lengthAdjust="spacingAndGlyphs" xml:space="preserve" stroke="#232429" stroke-width="0.25">KDJ</text>
<text x="517.40" y="822.5" font-size="18.4" fill="#f2f2f2" textLength="56.20" lengthAdjust="spacingAndGlyphs" xml:space="preserve" stroke="#52535e" stroke-width="0.25">MACD</text>
<path d="M589.5 810.5 L602 823 M602 810.5 L589.5 823" stroke="#b0b0b0" stroke-width="1.1" fill="none"/>
<text x="617.60" y="822.5" font-size="18.4" fill="#f2f2f2" textLength="26.40" lengthAdjust="spacingAndGlyphs" xml:space="preserve" stroke="#232429" stroke-width="0.25">RSI</text>
<text x="686.60" y="822.5" font-size="18.4" fill="#f2f2f2" textLength="33.80" lengthAdjust="spacingAndGlyphs" xml:space="preserve" stroke="#232429" stroke-width="0.25">SAR</text>
<text x="764.60" y="822.5" font-size="18.4" fill="#f2f2f2" textLength="45.40" lengthAdjust="spacingAndGlyphs" xml:space="preserve" stroke="#232429" stroke-width="0.25">W&amp;R</text>
<rect x="850.5" y="807.5" width="20" height="20" fill="none" stroke="#a8a8a8" stroke-width="1"/>
<path d="M860.5 811 V821 M853 816.5 H868" stroke="#b8b8b8" stroke-width="1" fill="none"/>
</svg>
</body></html>
